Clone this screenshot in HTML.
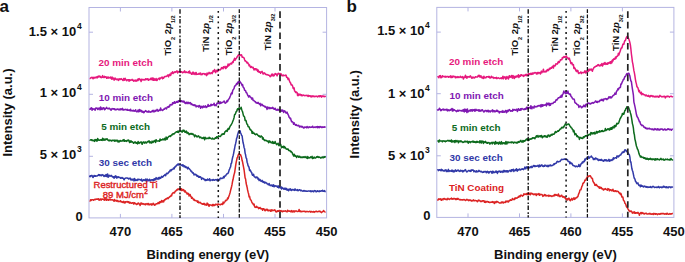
<!DOCTYPE html>
<html><head><meta charset="utf-8"><style>
html,body{margin:0;padding:0;background:#fff;}
body{width:685px;height:262px;overflow:hidden;}
svg{display:block;}
text{font-family:"Liberation Sans",sans-serif;font-weight:bold;}
.t13{font-size:13px;fill:#111;}
.t10{font-size:9.5px;fill:#111;}
.c{font-size:9.9px;}
</style></head><body>
<svg width="685" height="262" viewBox="0 0 685 262">
<text x="-0.5" y="12" style="font-size:17px;fill:#111">a</text>
<text x="346.5" y="11.9" style="font-size:17px;fill:#111">b</text>
<rect x="89.0" y="7.5" width="237.6" height="210.4" fill="none" stroke="#B4B4E2" stroke-width="1"/>
<line x1="120.4" y1="217.9" x2="120.4" y2="213.9" stroke="#B4B4E2" stroke-width="1"/>
<line x1="120.4" y1="7.5" x2="120.4" y2="11.5" stroke="#B4B4E2" stroke-width="1"/>
<line x1="171.9" y1="217.9" x2="171.9" y2="213.9" stroke="#B4B4E2" stroke-width="1"/>
<line x1="171.9" y1="7.5" x2="171.9" y2="11.5" stroke="#B4B4E2" stroke-width="1"/>
<line x1="223.5" y1="217.9" x2="223.5" y2="213.9" stroke="#B4B4E2" stroke-width="1"/>
<line x1="223.5" y1="7.5" x2="223.5" y2="11.5" stroke="#B4B4E2" stroke-width="1"/>
<line x1="275.0" y1="217.9" x2="275.0" y2="213.9" stroke="#B4B4E2" stroke-width="1"/>
<line x1="275.0" y1="7.5" x2="275.0" y2="11.5" stroke="#B4B4E2" stroke-width="1"/>
<line x1="89.0" y1="32.2" x2="93.0" y2="32.2" stroke="#B4B4E2" stroke-width="1"/>
<line x1="326.6" y1="32.2" x2="322.6" y2="32.2" stroke="#B4B4E2" stroke-width="1"/>
<line x1="89.0" y1="94.3" x2="93.0" y2="94.3" stroke="#B4B4E2" stroke-width="1"/>
<line x1="326.6" y1="94.3" x2="322.6" y2="94.3" stroke="#B4B4E2" stroke-width="1"/>
<line x1="89.0" y1="156.3" x2="93.0" y2="156.3" stroke="#B4B4E2" stroke-width="1"/>
<line x1="326.6" y1="156.3" x2="322.6" y2="156.3" stroke="#B4B4E2" stroke-width="1"/>
<path d="M89.6,78.4 90.1,78.5 90.6,78.0 91.1,77.5 91.6,77.7 92.1,77.2 92.6,78.0 93.1,78.8 93.6,77.4 94.1,77.2 94.6,78.0 95.1,77.9 95.6,77.6 96.1,76.8 96.6,77.5 97.1,78.0 97.6,76.5 98.1,77.2 98.6,76.1 99.1,76.5 99.6,76.1 100.1,77.3 100.6,76.5 101.1,77.7 101.6,77.6 102.1,77.4 102.6,75.6 103.1,77.1 103.6,77.5 104.1,77.6 104.6,76.4 105.1,77.1 105.6,76.8 106.1,76.9 106.6,78.3 107.1,76.9 107.6,77.5 108.1,78.2 108.6,77.1 109.1,77.6 109.6,77.8 110.1,77.9 110.6,77.0 111.1,78.1 111.6,79.1 112.1,77.1 112.6,79.0 113.1,78.6 113.6,78.1 114.1,80.2 114.6,79.4 115.1,78.0 115.6,79.0 116.1,79.5 116.6,79.0 117.1,79.7 117.6,79.1 118.1,79.7 118.6,80.4 119.1,78.8 119.6,79.5 120.1,79.1 120.6,79.5 121.1,78.6 121.6,79.1 122.1,79.4 122.6,80.2 123.1,80.5 123.6,78.6 124.1,79.1 124.6,80.2 125.1,78.2 125.6,79.4 126.1,79.7 126.6,80.8 127.1,80.4 127.6,79.7 128.1,79.7 128.6,79.8 129.1,81.2 129.6,79.7 130.1,79.9 130.6,80.4 131.1,80.1 131.6,80.1 132.1,79.4 132.6,80.3 133.1,80.0 133.6,81.2 134.1,80.9 134.6,80.4 135.1,80.9 135.6,80.1 136.1,81.2 136.6,80.4 137.1,80.8 137.6,79.3 138.1,80.5 138.6,78.9 139.1,78.6 139.6,79.8 140.1,79.3 140.6,80.1 141.1,81.5 141.6,79.2 142.1,79.3 142.6,79.8 143.1,80.0 143.6,79.4 144.1,79.4 144.6,80.0 145.1,79.9 145.6,78.7 146.1,79.4 146.6,79.5 147.1,78.7 147.6,79.7 148.1,78.9 148.6,80.3 149.1,79.7 149.6,79.6 150.1,79.1 150.6,79.5 151.1,78.1 151.6,78.7 152.1,79.9 152.6,78.0 153.1,80.2 153.6,78.3 154.1,80.2 154.6,79.0 155.1,80.2 155.6,79.7 156.1,78.4 156.6,80.4 157.1,80.4 157.6,79.1 158.1,78.9 158.6,78.8 159.1,78.1 159.6,79.5 160.1,78.1 160.6,78.4 161.1,77.7 161.6,77.6 162.1,77.0 162.6,78.8 163.1,77.5 163.6,78.2 164.1,77.3 164.6,76.6 165.1,76.7 165.6,76.4 166.1,76.6 166.6,76.2 167.1,76.0 167.6,75.0 168.1,75.2 168.6,76.9 169.1,74.9 169.6,74.4 170.1,75.1 170.6,75.5 171.1,73.0 171.6,73.6 172.1,72.9 172.6,71.8 173.1,73.5 173.6,72.7 174.1,72.6 174.6,71.8 175.1,72.5 175.6,71.7 176.1,71.9 176.6,71.1 177.1,71.0 177.6,72.9 178.1,71.5 178.6,72.1 179.1,71.9 179.6,71.6 180.1,71.5 180.6,72.4 181.1,71.7 181.6,71.8 182.1,71.9 182.6,72.8 183.1,72.4 183.6,72.2 184.1,71.5 184.6,70.9 185.1,72.6 185.6,72.6 186.1,71.8 186.6,72.3 187.1,72.5 187.6,72.5 188.1,72.6 188.6,71.6 189.1,73.1 189.6,71.1 190.1,72.9 190.6,72.8 191.1,73.3 191.6,74.3 192.1,74.2 192.6,72.4 193.1,72.1 193.6,74.1 194.1,72.9 194.6,73.7 195.1,74.5 195.6,72.8 196.1,72.5 196.6,74.4 197.1,74.3 197.6,74.1 198.1,74.3 198.6,73.7 199.1,73.2 199.6,74.2 200.1,73.6 200.6,73.1 201.1,74.7 201.6,74.3 202.1,74.6 202.6,73.6 203.1,73.8 203.6,73.6 204.1,73.6 204.6,74.4 205.1,73.7 205.6,74.5 206.1,74.4 206.6,75.6 207.1,73.0 207.6,74.6 208.1,73.7 208.6,73.6 209.1,72.4 209.6,73.0 210.1,73.8 210.6,73.0 211.1,73.0 211.6,72.6 212.1,73.6 212.6,72.5 213.1,70.8 213.6,71.7 214.1,70.6 214.6,69.5 215.1,71.4 215.6,72.6 216.1,71.4 216.6,70.3 217.1,70.3 217.6,71.6 218.1,70.7 218.6,70.3 219.1,69.9 219.6,69.7 220.1,69.9 220.6,69.4 221.1,68.8 221.6,67.6 222.1,68.5 222.6,67.5 223.1,68.7 223.6,66.8 224.1,67.6 224.6,67.5 225.1,66.4 225.6,68.6 226.1,68.2 226.6,66.5 227.1,67.1 227.6,66.5 228.1,64.0 228.6,65.8 229.1,65.2 229.6,64.9 230.1,63.6 230.6,63.7 231.1,63.3 231.6,63.9 232.1,62.7 232.6,61.9 233.1,62.5 233.6,60.4 234.1,59.9 234.6,58.3 235.1,60.3 235.6,59.2 236.1,58.6 236.6,57.9 237.1,56.9 237.6,56.4 238.1,55.4 238.6,54.9 239.1,54.8 239.6,55.9 240.1,55.3 240.6,55.0 241.1,54.8 241.6,55.0 242.1,57.2 242.6,57.0 243.1,57.3 243.6,57.7 244.1,58.0 244.6,59.7 245.1,61.1 245.6,60.8 246.1,61.6 246.6,62.2 247.1,63.0 247.6,62.3 248.1,63.8 248.6,63.9 249.1,65.7 249.6,65.0 250.1,66.4 250.6,67.5 251.1,66.5 251.6,66.7 252.1,67.6 252.6,67.8 253.1,67.3 253.6,68.7 254.1,70.1 254.6,68.7 255.1,69.0 255.6,68.7 256.1,70.0 256.6,69.0 257.1,69.4 257.6,71.4 258.1,70.0 258.6,71.7 259.1,72.3 259.6,71.6 260.1,72.0 260.6,73.3 261.1,71.9 261.6,71.8 262.1,71.4 262.6,72.7 263.1,74.1 263.6,73.9 264.1,72.8 264.6,73.1 265.1,73.6 265.6,74.4 266.1,74.2 266.6,74.7 267.1,74.9 267.6,74.6 268.1,74.9 268.6,75.3 269.1,75.2 269.6,75.7 270.1,76.8 270.6,76.0 271.1,75.6 271.6,74.3 272.1,75.9 272.6,74.1 273.1,74.4 273.6,75.9 274.1,75.7 274.6,74.8 275.1,73.5 275.6,74.3 276.1,73.9 276.6,74.8 277.1,75.9 277.6,74.3 278.1,73.5 278.6,73.3 279.1,74.1 279.6,74.1 280.1,73.5 280.6,74.6 281.1,73.8 281.6,75.6 282.1,75.7 282.6,75.8 283.1,74.8 283.6,75.7 284.1,75.4 284.6,75.4 285.1,75.6 285.6,75.1 286.1,75.3 286.6,77.3 287.1,77.2 287.6,78.2 288.1,79.6 288.6,78.3 289.1,79.8 289.6,81.4 290.1,82.5 290.6,82.8 291.1,84.8 291.6,85.1 292.1,84.9 292.6,86.0 293.1,88.2 293.6,88.8 294.1,87.9 294.6,91.1 295.1,91.2 295.6,92.5 296.1,91.9 296.6,92.6 297.1,92.5 297.6,95.6 298.1,93.9 298.6,95.5 299.1,94.1 299.6,94.9 300.1,94.2 300.6,94.9 301.1,95.6 301.6,94.7 302.1,95.8 302.6,95.6 303.1,95.0 303.6,95.3 304.1,95.4 304.6,95.7 305.1,95.5 305.6,95.4 306.1,95.7 306.6,95.4 307.1,95.3 307.6,95.9 308.1,96.4 308.6,95.4 309.1,96.1 309.6,95.8 310.1,95.7 310.6,96.6 311.1,96.0 311.6,96.9 312.1,95.9 312.6,96.5 313.1,96.2 313.6,96.0 314.1,96.7 314.6,96.3 315.1,96.7 315.6,96.4 316.1,96.0 316.6,96.4 317.1,96.5 317.6,96.9 318.1,96.1 318.6,96.5 319.1,95.7 319.6,96.8 320.1,96.1 320.6,95.7 321.1,96.5 321.6,97.1 322.1,95.9 322.6,96.1 323.1,96.2 323.6,96.1 324.1,96.8 324.6,96.2 325.1,96.3 325.6,96.9" fill="none" stroke="#E6197D" stroke-width="1.5" stroke-linejoin="round"/>
<path d="M89.6,108.5 90.1,109.3 90.6,108.3 91.1,108.2 91.6,107.7 92.1,110.3 92.6,108.8 93.1,109.2 93.6,109.0 94.1,109.1 94.6,109.0 95.1,110.3 95.6,108.3 96.1,107.9 96.6,108.3 97.1,108.1 97.6,109.5 98.1,109.6 98.6,108.3 99.1,108.0 99.6,108.7 100.1,109.9 100.6,107.0 101.1,109.3 101.6,108.1 102.1,109.6 102.6,108.1 103.1,108.6 103.6,107.7 104.1,108.1 104.6,109.7 105.1,109.3 105.6,108.4 106.1,108.1 106.6,107.4 107.1,108.4 107.6,108.7 108.1,108.7 108.6,108.7 109.1,108.0 109.6,108.8 110.1,108.8 110.6,109.8 111.1,110.3 111.6,109.0 112.1,108.6 112.6,109.1 113.1,108.8 113.6,108.8 114.1,109.3 114.6,108.7 115.1,109.9 115.6,109.5 116.1,109.7 116.6,109.5 117.1,109.1 117.6,109.0 118.1,109.5 118.6,109.3 119.1,109.9 119.6,109.7 120.1,108.8 120.6,109.8 121.1,108.8 121.6,109.4 122.1,109.6 122.6,108.4 123.1,109.9 123.6,110.0 124.1,109.8 124.6,109.6 125.1,109.7 125.6,109.3 126.1,109.8 126.6,109.6 127.1,110.1 127.6,109.3 128.1,110.3 128.6,110.3 129.1,110.1 129.6,110.0 130.1,110.7 130.6,109.2 131.1,110.8 131.6,110.7 132.1,110.8 132.6,110.9 133.1,110.2 133.6,110.5 134.1,111.2 134.6,111.1 135.1,111.0 135.6,109.8 136.1,111.3 136.6,111.8 137.1,111.7 137.6,111.2 138.1,110.0 138.6,111.8 139.1,111.1 139.6,109.4 140.1,111.5 140.6,110.3 141.1,110.4 141.6,110.9 142.1,112.3 142.6,111.2 143.1,111.6 143.6,112.7 144.1,112.6 144.6,111.4 145.1,111.3 145.6,110.6 146.1,111.0 146.6,111.8 147.1,111.8 147.6,111.6 148.1,112.2 148.6,110.9 149.1,111.4 149.6,112.0 150.1,111.9 150.6,112.2 151.1,111.7 151.6,111.2 152.1,111.7 152.6,110.7 153.1,110.3 153.6,111.8 154.1,111.4 154.6,111.6 155.1,110.2 155.6,111.1 156.1,110.8 156.6,110.5 157.1,109.4 157.6,110.6 158.1,111.3 158.6,110.8 159.1,109.9 159.6,110.1 160.1,110.5 160.6,107.9 161.1,109.7 161.6,110.0 162.1,110.0 162.6,110.5 163.1,110.0 163.6,109.2 164.1,109.1 164.6,109.2 165.1,108.1 165.6,108.1 166.1,108.5 166.6,108.9 167.1,107.1 167.6,106.9 168.1,106.7 168.6,107.2 169.1,105.9 169.6,106.6 170.1,104.6 170.6,104.9 171.1,104.6 171.6,104.9 172.1,104.8 172.6,102.7 173.1,102.9 173.6,103.5 174.1,102.5 174.6,101.7 175.1,103.2 175.6,102.6 176.1,102.4 176.6,101.5 177.1,102.4 177.6,101.4 178.1,102.2 178.6,100.8 179.1,100.8 179.6,101.5 180.1,100.8 180.6,101.8 181.1,101.5 181.6,100.7 182.1,101.4 182.6,101.2 183.1,102.1 183.6,101.1 184.1,101.3 184.6,102.5 185.1,103.4 185.6,103.4 186.1,102.2 186.6,102.5 187.1,103.6 187.6,102.6 188.1,102.2 188.6,103.2 189.1,103.6 189.6,102.9 190.1,102.5 190.6,102.9 191.1,104.5 191.6,103.7 192.1,104.4 192.6,104.8 193.1,105.3 193.6,104.8 194.1,105.6 194.6,104.9 195.1,105.5 195.6,105.2 196.1,106.9 196.6,106.3 197.1,105.9 197.6,106.2 198.1,106.3 198.6,107.0 199.1,105.4 199.6,105.8 200.1,106.2 200.6,108.2 201.1,107.1 201.6,106.4 202.1,106.9 202.6,107.8 203.1,106.2 203.6,106.1 204.1,107.2 204.6,106.6 205.1,106.7 205.6,105.9 206.1,107.5 206.6,107.3 207.1,106.4 207.6,106.5 208.1,104.5 208.6,106.3 209.1,105.6 209.6,105.9 210.1,106.0 210.6,105.2 211.1,104.2 211.6,105.6 212.1,104.7 212.6,104.9 213.1,104.6 213.6,104.7 214.1,103.2 214.6,105.6 215.1,104.8 215.6,105.3 216.1,105.8 216.6,104.3 217.1,102.9 217.6,103.4 218.1,103.0 218.6,103.4 219.1,103.6 219.6,102.0 220.1,103.5 220.6,102.0 221.1,103.1 221.6,102.6 222.1,102.4 222.6,102.4 223.1,102.0 223.6,101.8 224.1,101.0 224.6,102.0 225.1,103.2 225.6,103.1 226.1,102.5 226.6,101.8 227.1,100.5 227.6,101.6 228.1,100.0 228.6,99.5 229.1,98.6 229.6,98.0 230.1,96.5 230.6,95.5 231.1,93.7 231.6,93.1 232.1,93.8 232.6,91.0 233.1,89.7 233.6,89.2 234.1,88.3 234.6,86.1 235.1,85.8 235.6,85.7 236.1,84.5 236.6,83.8 237.1,84.3 237.6,82.3 238.1,82.4 238.6,81.8 239.1,83.3 239.6,81.0 240.1,82.0 240.6,82.3 241.1,83.5 241.6,84.1 242.1,85.6 242.6,84.6 243.1,87.2 243.6,87.5 244.1,88.3 244.6,90.3 245.1,90.4 245.6,90.6 246.1,92.6 246.6,92.5 247.1,93.8 247.6,95.1 248.1,95.6 248.6,97.0 249.1,96.3 249.6,95.8 250.1,96.8 250.6,97.2 251.1,97.4 251.6,99.0 252.1,98.7 252.6,98.1 253.1,100.4 253.6,100.2 254.1,100.9 254.6,101.1 255.1,101.9 255.6,101.8 256.1,103.0 256.6,102.7 257.1,103.0 257.6,103.3 258.1,102.3 258.6,103.5 259.1,103.7 259.6,104.3 260.1,103.4 260.6,105.8 261.1,105.0 261.6,104.3 262.1,104.2 262.6,105.4 263.1,105.8 263.6,105.6 264.1,106.4 264.6,106.2 265.1,107.2 265.6,106.5 266.1,107.2 266.6,108.1 267.1,109.4 267.6,107.0 268.1,107.5 268.6,107.4 269.1,108.7 269.6,107.4 270.1,108.0 270.6,108.4 271.1,107.9 271.6,108.0 272.1,108.4 272.6,107.4 273.1,107.9 273.6,108.8 274.1,109.3 274.6,109.2 275.1,108.2 275.6,109.2 276.1,110.2 276.6,110.1 277.1,109.8 277.6,109.3 278.1,110.4 278.6,109.7 279.1,109.3 279.6,109.6 280.1,111.3 280.6,110.4 281.1,111.1 281.6,110.0 282.1,111.1 282.6,110.1 283.1,110.5 283.6,112.4 284.1,111.5 284.6,110.8 285.1,111.5 285.6,112.2 286.1,113.2 286.6,112.5 287.1,112.1 287.6,113.7 288.1,114.6 288.6,115.5 289.1,117.3 289.6,117.5 290.1,118.7 290.6,118.2 291.1,120.3 291.6,121.8 292.1,121.6 292.6,121.9 293.1,122.5 293.6,124.2 294.1,122.8 294.6,123.8 295.1,124.6 295.6,125.1 296.1,124.6 296.6,125.4 297.1,125.3 297.6,125.8 298.1,125.8 298.6,125.3 299.1,126.2 299.6,127.0 300.1,126.1 300.6,126.5 301.1,126.9 301.6,126.3 302.1,126.9 302.6,126.5 303.1,127.4 303.6,128.0 304.1,127.9 304.6,127.0 305.1,127.4 305.6,127.2 306.1,127.1 306.6,127.8 307.1,126.5 307.6,127.5 308.1,127.1 308.6,127.7 309.1,127.2 309.6,126.8 310.1,127.2 310.6,127.4 311.1,127.1 311.6,127.3 312.1,126.9 312.6,126.2 313.1,127.5 313.6,127.4 314.1,127.2 314.6,127.1 315.1,127.5 315.6,126.9 316.1,126.8 316.6,127.0 317.1,127.6 317.6,126.5 318.1,127.6 318.6,126.8 319.1,126.6 319.6,127.6 320.1,127.0 320.6,126.5 321.1,126.9 321.6,127.4 322.1,127.5 322.6,126.9 323.1,127.2 323.6,127.3 324.1,126.8 324.6,127.2 325.1,127.0 325.6,126.8" fill="none" stroke="#7F18B2" stroke-width="1.5" stroke-linejoin="round"/>
<path d="M89.6,139.8 90.1,140.1 90.6,140.1 91.1,139.7 91.6,139.8 92.1,140.7 92.6,140.1 93.1,140.6 93.6,140.8 94.1,140.3 94.6,141.4 95.1,139.4 95.6,140.4 96.1,139.7 96.6,141.1 97.1,141.0 97.6,138.6 98.1,139.2 98.6,140.3 99.1,140.3 99.6,140.3 100.1,139.7 100.6,140.1 101.1,140.2 101.6,139.7 102.1,140.4 102.6,138.3 103.1,140.1 103.6,139.0 104.1,140.3 104.6,139.6 105.1,139.1 105.6,140.0 106.1,139.1 106.6,139.2 107.1,138.8 107.6,139.9 108.1,140.2 108.6,140.6 109.1,140.0 109.6,140.8 110.1,140.2 110.6,140.2 111.1,140.7 111.6,141.0 112.1,140.2 112.6,140.3 113.1,140.4 113.6,140.6 114.1,140.0 114.6,141.2 115.1,140.3 115.6,140.9 116.1,140.1 116.6,140.9 117.1,140.9 117.6,140.4 118.1,142.0 118.6,141.0 119.1,141.9 119.6,141.4 120.1,140.4 120.6,140.6 121.1,141.2 121.6,140.9 122.1,141.0 122.6,140.8 123.1,139.8 123.6,140.9 124.1,139.6 124.6,141.3 125.1,140.7 125.6,140.7 126.1,141.1 126.6,141.4 127.1,140.4 127.6,140.2 128.1,140.7 128.6,140.1 129.1,140.9 129.6,142.6 130.1,140.9 130.6,142.1 131.1,140.9 131.6,142.0 132.1,141.7 132.6,142.0 133.1,142.5 133.6,143.3 134.1,142.4 134.6,142.5 135.1,141.8 135.6,142.9 136.1,142.5 136.6,143.2 137.1,142.7 137.6,143.9 138.1,141.5 138.6,142.6 139.1,143.4 139.6,142.6 140.1,142.3 140.6,142.6 141.1,141.8 141.6,142.8 142.1,144.3 142.6,143.4 143.1,141.9 143.6,142.0 144.1,142.3 144.6,143.2 145.1,142.0 145.6,142.0 146.1,143.0 146.6,143.0 147.1,142.1 147.6,141.6 148.1,141.3 148.6,141.8 149.1,140.8 149.6,142.7 150.1,141.7 150.6,142.4 151.1,143.2 151.6,142.7 152.1,141.1 152.6,142.4 153.1,142.5 153.6,141.2 154.1,141.0 154.6,141.5 155.1,140.4 155.6,142.4 156.1,139.8 156.6,140.5 157.1,141.0 157.6,140.9 158.1,141.0 158.6,141.0 159.1,140.6 159.6,141.3 160.1,139.0 160.6,140.3 161.1,139.7 161.6,140.1 162.1,140.0 162.6,139.1 163.1,139.1 163.6,139.8 164.1,139.3 164.6,138.4 165.1,139.9 165.6,139.8 166.1,137.1 166.6,138.0 167.1,139.2 167.6,137.8 168.1,137.2 168.6,136.7 169.1,136.3 169.6,136.2 170.1,135.8 170.6,136.4 171.1,135.4 171.6,135.1 172.1,134.3 172.6,134.7 173.1,133.7 173.6,133.7 174.1,134.0 174.6,133.1 175.1,132.8 175.6,132.4 176.1,132.0 176.6,131.8 177.1,131.6 177.6,132.2 178.1,130.9 178.6,132.4 179.1,131.5 179.6,130.9 180.1,131.1 180.6,131.0 181.1,131.5 181.6,131.0 182.1,132.2 182.6,131.0 183.1,130.1 183.6,131.1 184.1,130.3 184.6,131.7 185.1,132.4 185.6,132.2 186.1,131.0 186.6,131.5 187.1,133.4 187.6,132.6 188.1,132.6 188.6,133.5 189.1,134.6 189.6,134.1 190.1,133.5 190.6,133.8 191.1,134.2 191.6,133.6 192.1,133.5 192.6,134.5 193.1,134.0 193.6,134.8 194.1,135.1 194.6,136.8 195.1,134.9 195.6,135.6 196.1,135.8 196.6,136.4 197.1,137.0 197.6,136.3 198.1,136.2 198.6,135.9 199.1,136.6 199.6,137.7 200.1,137.5 200.6,137.0 201.1,137.6 201.6,138.0 202.1,138.5 202.6,137.9 203.1,138.3 203.6,137.3 204.1,137.8 204.6,139.7 205.1,137.2 205.6,138.4 206.1,138.7 206.6,138.3 207.1,138.1 207.6,138.5 208.1,138.6 208.6,138.5 209.1,137.3 209.6,138.4 210.1,138.0 210.6,138.2 211.1,138.6 211.6,138.9 212.1,139.0 212.6,138.1 213.1,138.9 213.6,139.0 214.1,138.9 214.6,139.0 215.1,137.9 215.6,137.7 216.1,138.3 216.6,136.7 217.1,137.6 217.6,137.0 218.1,136.9 218.6,135.8 219.1,136.1 219.6,136.4 220.1,136.6 220.6,136.3 221.1,135.2 221.6,134.8 222.1,134.0 222.6,134.5 223.1,133.7 223.6,133.9 224.1,134.3 224.6,132.8 225.1,131.4 225.6,131.4 226.1,130.6 226.6,130.3 227.1,131.4 227.6,130.2 228.1,128.5 228.6,129.3 229.1,129.1 229.6,127.3 230.1,126.3 230.6,125.6 231.1,125.0 231.6,124.0 232.1,123.1 232.6,121.8 233.1,120.5 233.6,119.2 234.1,117.4 234.6,114.6 235.1,114.3 235.6,113.4 236.1,111.8 236.6,111.6 237.1,109.9 237.6,108.8 238.1,109.6 238.6,108.6 239.1,108.0 239.6,108.6 240.1,108.9 240.6,108.7 241.1,107.3 241.6,109.3 242.1,110.7 242.6,111.9 243.1,114.1 243.6,116.1 244.1,116.3 244.6,117.1 245.1,120.4 245.6,120.1 246.1,120.8 246.6,123.0 247.1,124.3 247.6,124.7 248.1,126.6 248.6,126.6 249.1,127.1 249.6,128.5 250.1,129.6 250.6,129.3 251.1,130.5 251.6,130.9 252.1,133.3 252.6,131.6 253.1,133.4 253.6,132.9 254.1,133.2 254.6,134.0 255.1,134.3 255.6,134.7 256.1,134.3 256.6,133.9 257.1,134.1 257.6,135.0 258.1,135.3 258.6,136.1 259.1,135.7 259.6,136.5 260.1,137.1 260.6,136.6 261.1,135.9 261.6,136.5 262.1,136.7 262.6,139.0 263.1,137.8 263.6,139.5 264.1,139.5 264.6,140.6 265.1,140.5 265.6,140.2 266.1,140.4 266.6,140.9 267.1,141.2 267.6,141.0 268.1,141.5 268.6,142.7 269.1,140.7 269.6,142.1 270.1,141.4 270.6,142.3 271.1,142.8 271.6,142.3 272.1,142.9 272.6,141.5 273.1,143.4 273.6,142.4 274.1,143.3 274.6,143.2 275.1,141.5 275.6,142.8 276.1,143.6 276.6,144.6 277.1,143.9 277.6,144.1 278.1,143.2 278.6,145.2 279.1,145.7 279.6,144.8 280.1,144.9 280.6,144.3 281.1,146.2 281.6,147.7 282.1,146.6 282.6,147.2 283.1,147.0 283.6,146.2 284.1,148.0 284.6,146.6 285.1,147.5 285.6,148.1 286.1,148.9 286.6,149.0 287.1,149.3 287.6,149.0 288.1,149.1 288.6,150.4 289.1,150.4 289.6,150.4 290.1,150.9 290.6,151.8 291.1,151.4 291.6,152.2 292.1,152.5 292.6,154.1 293.1,154.7 293.6,156.1 294.1,154.2 294.6,155.0 295.1,156.3 295.6,155.8 296.1,155.9 296.6,157.5 297.1,156.3 297.6,156.0 298.1,156.0 298.6,157.2 299.1,157.3 299.6,156.2 300.1,156.8 300.6,157.4 301.1,157.5 301.6,157.0 302.1,157.5 302.6,157.6 303.1,156.7 303.6,157.2 304.1,157.5 304.6,157.2 305.1,156.6 305.6,157.3 306.1,157.7 306.6,158.0 307.1,156.5 307.6,158.4 308.1,157.0 308.6,157.8 309.1,157.9 309.6,157.8 310.1,157.5 310.6,156.9 311.1,157.6 311.6,157.1 312.1,156.4 312.6,158.5 313.1,157.7 313.6,158.1 314.1,157.0 314.6,158.0 315.1,158.0 315.6,158.0 316.1,157.4 316.6,156.9 317.1,157.3 317.6,156.5 318.1,156.7 318.6,157.4 319.1,157.0 319.6,157.3 320.1,157.3 320.6,158.1 321.1,157.9 321.6,157.3 322.1,157.8 322.6,157.0 323.1,157.2 323.6,157.7 324.1,156.8 324.6,157.2 325.1,156.8 325.6,157.4" fill="none" stroke="#0C6A1C" stroke-width="1.5" stroke-linejoin="round"/>
<path d="M89.6,177.3 90.1,175.8 90.6,176.4 91.1,175.7 91.6,175.5 92.1,175.4 92.6,176.9 93.1,177.5 93.6,176.3 94.1,175.5 94.6,176.3 95.1,175.7 95.6,176.3 96.1,176.0 96.6,176.0 97.1,176.1 97.6,175.4 98.1,175.4 98.6,174.6 99.1,175.4 99.6,174.7 100.1,175.5 100.6,175.0 101.1,175.6 101.6,175.8 102.1,174.6 102.6,175.0 103.1,174.9 103.6,175.9 104.1,176.4 104.6,175.9 105.1,175.2 105.6,176.3 106.1,174.5 106.6,176.4 107.1,175.2 107.6,173.9 108.1,177.3 108.6,176.7 109.1,175.2 109.6,176.0 110.1,175.9 110.6,176.2 111.1,175.3 111.6,175.9 112.1,176.7 112.6,176.6 113.1,177.3 113.6,176.7 114.1,178.2 114.6,176.4 115.1,177.1 115.6,175.9 116.1,176.4 116.6,178.0 117.1,176.7 117.6,177.7 118.1,177.4 118.6,176.9 119.1,177.4 119.6,177.4 120.1,177.5 120.6,178.3 121.1,178.3 121.6,177.7 122.1,177.5 122.6,178.3 123.1,178.1 123.6,178.8 124.1,179.8 124.6,178.8 125.1,178.3 125.6,178.2 126.1,177.9 126.6,177.9 127.1,177.9 127.6,178.3 128.1,178.3 128.6,179.0 129.1,178.4 129.6,178.5 130.1,178.0 130.6,179.8 131.1,179.1 131.6,180.0 132.1,179.4 132.6,179.9 133.1,179.0 133.6,179.6 134.1,180.9 134.6,178.6 135.1,180.1 135.6,180.5 136.1,179.8 136.6,180.1 137.1,180.5 137.6,179.3 138.1,180.0 138.6,179.3 139.1,179.4 139.6,179.5 140.1,179.8 140.6,180.0 141.1,180.2 141.6,179.1 142.1,181.2 142.6,180.7 143.1,180.5 143.6,179.8 144.1,180.0 144.6,180.4 145.1,180.3 145.6,179.1 146.1,180.6 146.6,181.9 147.1,179.0 147.6,180.7 148.1,180.3 148.6,180.0 149.1,180.9 149.6,179.3 150.1,180.2 150.6,180.9 151.1,179.9 151.6,179.8 152.1,180.1 152.6,179.7 153.1,180.8 153.6,179.3 154.1,180.2 154.6,178.8 155.1,179.9 155.6,179.3 156.1,177.6 156.6,179.0 157.1,178.2 157.6,178.4 158.1,179.4 158.6,177.6 159.1,177.4 159.6,178.7 160.1,177.6 160.6,178.3 161.1,177.3 161.6,176.3 162.1,176.6 162.6,177.1 163.1,176.7 163.6,175.8 164.1,175.6 164.6,175.2 165.1,174.6 165.6,175.8 166.1,174.3 166.6,173.2 167.1,173.3 167.6,173.7 168.1,173.2 168.6,172.4 169.1,171.6 169.6,171.7 170.1,170.2 170.6,170.0 171.1,170.8 171.6,169.5 172.1,169.6 172.6,169.6 173.1,168.8 173.6,168.0 174.1,168.9 174.6,167.6 175.1,166.5 175.6,166.7 176.1,166.1 176.6,165.0 177.1,165.2 177.6,164.9 178.1,163.8 178.6,164.9 179.1,164.9 179.6,164.8 180.1,164.1 180.6,164.9 181.1,165.2 181.6,165.4 182.1,164.7 182.6,166.0 183.1,165.0 183.6,165.8 184.1,166.9 184.6,165.9 185.1,166.3 185.6,167.5 186.1,166.9 186.6,167.3 187.1,168.0 187.6,168.9 188.1,167.2 188.6,168.4 189.1,168.7 189.6,169.1 190.1,169.8 190.6,170.3 191.1,171.5 191.6,171.2 192.1,172.3 192.6,173.0 193.1,172.7 193.6,173.6 194.1,174.9 194.6,174.4 195.1,174.1 195.6,174.8 196.1,174.6 196.6,175.6 197.1,176.3 197.6,175.5 198.1,176.2 198.6,177.3 199.1,176.5 199.6,177.2 200.1,176.7 200.6,177.1 201.1,177.6 201.6,179.4 202.1,178.1 202.6,178.2 203.1,178.4 203.6,178.8 204.1,179.5 204.6,179.3 205.1,180.6 205.6,179.6 206.1,180.4 206.6,179.8 207.1,180.1 207.6,179.0 208.1,179.9 208.6,180.0 209.1,179.9 209.6,178.8 210.1,180.7 210.6,180.0 211.1,179.9 211.6,180.0 212.1,180.1 212.6,180.4 213.1,179.4 213.6,179.6 214.1,180.3 214.6,180.2 215.1,179.8 215.6,179.7 216.1,179.5 216.6,179.9 217.1,180.6 217.6,179.2 218.1,180.7 218.6,180.2 219.1,179.3 219.6,179.9 220.1,178.4 220.6,178.1 221.1,178.2 221.6,178.5 222.1,178.4 222.6,178.0 223.1,178.1 223.6,176.5 224.1,177.7 224.6,176.1 225.1,176.1 225.6,175.8 226.1,174.9 226.6,174.2 227.1,173.8 227.6,173.6 228.1,173.1 228.6,172.1 229.1,170.1 229.6,169.1 230.1,167.7 230.6,166.9 231.1,163.4 231.6,163.2 232.1,159.9 232.6,157.5 233.1,155.7 233.6,153.6 234.1,150.6 234.6,148.5 235.1,145.5 235.6,143.7 236.1,141.3 236.6,138.3 237.1,137.3 237.6,134.7 238.1,133.1 238.6,131.5 239.1,131.2 239.6,131.7 240.1,130.9 240.6,133.0 241.1,133.9 241.6,135.5 242.1,135.9 242.6,139.6 243.1,142.8 243.6,144.6 244.1,147.7 244.6,148.8 245.1,153.1 245.6,154.8 246.1,158.0 246.6,158.5 247.1,162.2 247.6,163.6 248.1,165.9 248.6,166.3 249.1,167.7 249.6,170.6 250.1,169.9 250.6,170.9 251.1,172.0 251.6,172.3 252.1,174.3 252.6,175.3 253.1,174.4 253.6,174.3 254.1,176.5 254.6,176.9 255.1,177.2 255.6,177.8 256.1,176.9 256.6,177.7 257.1,177.2 257.6,177.5 258.1,179.3 258.6,178.6 259.1,180.6 259.6,179.6 260.1,179.5 260.6,180.6 261.1,181.5 261.6,181.1 262.1,180.3 262.6,181.6 263.1,182.4 263.6,181.6 264.1,181.7 264.6,183.0 265.1,182.8 265.6,182.3 266.1,182.9 266.6,182.9 267.1,183.8 267.6,183.9 268.1,184.7 268.6,184.7 269.1,183.5 269.6,184.9 270.1,185.4 270.6,185.3 271.1,185.8 271.6,185.1 272.1,185.0 272.6,186.3 273.1,185.3 273.6,184.8 274.1,186.8 274.6,185.9 275.1,186.3 275.6,185.8 276.1,185.9 276.6,186.2 277.1,186.7 277.6,187.3 278.1,185.8 278.6,187.7 279.1,186.7 279.6,186.8 280.1,188.0 280.6,187.6 281.1,186.9 281.6,189.0 282.1,187.5 282.6,188.3 283.1,188.3 283.6,189.2 284.1,188.2 284.6,189.2 285.1,188.2 285.6,189.4 286.1,188.4 286.6,188.8 287.1,190.2 287.6,189.4 288.1,189.3 288.6,190.7 289.1,189.6 289.6,189.0 290.1,190.0 290.6,188.9 291.1,190.3 291.6,190.5 292.1,189.5 292.6,189.5 293.1,190.0 293.6,190.0 294.1,189.4 294.6,190.4 295.1,188.9 295.6,189.9 296.1,190.0 296.6,190.1 297.1,190.5 297.6,189.6 298.1,190.8 298.6,190.3 299.1,190.1 299.6,189.7 300.1,190.1 300.6,190.7 301.1,190.2 301.6,190.6 302.1,191.0 302.6,191.1 303.1,191.3 303.6,190.6 304.1,190.4 304.6,191.2 305.1,190.9 305.6,191.2 306.1,190.9 306.6,191.3 307.1,191.2 307.6,191.2 308.1,191.1 308.6,191.1 309.1,191.1 309.6,191.1 310.1,191.4 310.6,190.9 311.1,191.7 311.6,191.0 312.1,191.4 312.6,191.1 313.1,191.0 313.6,191.8 314.1,191.0 314.6,190.6 315.1,190.8 315.6,191.0 316.1,191.9 316.6,191.2 317.1,191.4 317.6,190.7 318.1,191.2 318.6,191.3 319.1,191.7 319.6,190.8 320.1,191.3 320.6,191.2 321.1,190.7 321.6,191.1 322.1,191.0 322.6,190.3 323.1,191.3 323.6,191.3 324.1,190.9 324.6,190.6 325.1,191.6 325.6,191.2" fill="none" stroke="#3139A8" stroke-width="1.5" stroke-linejoin="round"/>
<path d="M89.6,200.8 90.1,201.0 90.6,199.8 91.1,200.5 91.6,199.8 92.1,199.8 92.6,199.7 93.1,199.7 93.6,200.3 94.1,199.7 94.6,199.5 95.1,199.3 95.6,199.6 96.1,198.9 96.6,199.1 97.1,199.3 97.6,199.0 98.1,199.2 98.6,198.8 99.1,200.2 99.6,199.8 100.1,199.3 100.6,199.0 101.1,200.2 101.6,199.2 102.1,199.0 102.6,199.2 103.1,199.2 103.6,199.8 104.1,199.0 104.6,200.2 105.1,198.6 105.6,199.6 106.1,198.7 106.6,200.3 107.1,199.2 107.6,199.4 108.1,200.0 108.6,200.3 109.1,199.1 109.6,199.6 110.1,199.0 110.6,200.0 111.1,199.9 111.6,199.8 112.1,199.7 112.6,200.0 113.1,199.9 113.6,200.7 114.1,201.3 114.6,199.5 115.1,200.6 115.6,200.5 116.1,201.1 116.6,200.4 117.1,200.9 117.6,200.5 118.1,201.6 118.6,201.3 119.1,201.3 119.6,201.6 120.1,201.4 120.6,200.7 121.1,202.0 121.6,201.9 122.1,201.7 122.6,202.4 123.1,202.6 123.6,201.4 124.1,201.6 124.6,202.9 125.1,202.9 125.6,201.8 126.1,201.6 126.6,202.0 127.1,202.1 127.6,201.5 128.1,202.5 128.6,201.8 129.1,201.9 129.6,203.1 130.1,202.3 130.6,202.7 131.1,203.2 131.6,203.3 132.1,202.8 132.6,203.0 133.1,202.6 133.6,204.1 134.1,203.6 134.6,202.7 135.1,203.4 135.6,203.8 136.1,203.8 136.6,204.6 137.1,204.4 137.6,203.4 138.1,203.7 138.6,203.1 139.1,204.0 139.6,204.0 140.1,205.5 140.6,204.1 141.1,202.9 141.6,203.7 142.1,204.2 142.6,203.5 143.1,203.7 143.6,204.0 144.1,204.5 144.6,204.2 145.1,203.8 145.6,204.8 146.1,204.1 146.6,204.1 147.1,203.6 147.6,204.0 148.1,204.8 148.6,203.5 149.1,204.4 149.6,204.8 150.1,204.2 150.6,204.5 151.1,203.7 151.6,205.1 152.1,204.9 152.6,204.4 153.1,203.3 153.6,203.7 154.1,204.8 154.6,205.2 155.1,204.4 155.6,204.8 156.1,203.7 156.6,203.8 157.1,203.7 157.6,203.8 158.1,202.5 158.6,203.6 159.1,203.6 159.6,202.0 160.1,201.7 160.6,202.5 161.1,201.7 161.6,200.5 162.1,202.0 162.6,201.4 163.1,200.7 163.6,201.9 164.1,200.5 164.6,199.7 165.1,199.9 165.6,198.9 166.1,198.8 166.6,199.0 167.1,198.2 167.6,197.9 168.1,198.6 168.6,197.8 169.1,197.4 169.6,196.8 170.1,196.4 170.6,196.5 171.1,195.2 171.6,195.8 172.1,193.7 172.6,193.7 173.1,192.6 173.6,192.7 174.1,192.8 174.6,192.9 175.1,191.3 175.6,191.3 176.1,190.6 176.6,190.1 177.1,189.5 177.6,189.9 178.1,188.8 178.6,189.6 179.1,189.5 179.6,189.0 180.1,188.7 180.6,188.5 181.1,190.4 181.6,188.7 182.1,190.5 182.6,190.1 183.1,189.8 183.6,189.6 184.1,191.1 184.6,191.9 185.1,190.8 185.6,191.6 186.1,192.8 186.6,192.8 187.1,194.1 187.6,193.1 188.1,194.2 188.6,193.6 189.1,196.0 189.6,194.9 190.1,194.5 190.6,196.1 191.1,196.6 191.6,198.2 192.1,197.4 192.6,198.1 193.1,198.9 193.6,199.9 194.1,199.4 194.6,200.4 195.1,200.5 195.6,200.4 196.1,200.9 196.6,201.1 197.1,200.9 197.6,202.3 198.1,201.1 198.6,202.7 199.1,202.8 199.6,202.5 200.1,202.3 200.6,202.8 201.1,203.4 201.6,203.8 202.1,203.7 202.6,204.3 203.1,203.6 203.6,204.2 204.1,203.3 204.6,204.7 205.1,204.5 205.6,204.2 206.1,205.2 206.6,205.0 207.1,203.1 207.6,204.8 208.1,204.0 208.6,205.5 209.1,206.3 209.6,204.7 210.1,205.0 210.6,204.9 211.1,205.2 211.6,205.3 212.1,205.7 212.6,204.4 213.1,205.8 213.6,204.4 214.1,205.0 214.6,205.5 215.1,205.2 215.6,204.2 216.1,204.3 216.6,204.4 217.1,204.6 217.6,205.2 218.1,203.8 218.6,204.6 219.1,204.6 219.6,204.5 220.1,204.4 220.6,204.8 221.1,204.1 221.6,204.2 222.1,203.9 222.6,204.4 223.1,202.1 223.6,203.6 224.1,202.4 224.6,202.1 225.1,201.3 225.6,200.4 226.1,200.7 226.6,199.9 227.1,199.9 227.6,198.0 228.1,198.7 228.6,197.1 229.1,195.7 229.6,194.2 230.1,192.5 230.6,190.4 231.1,188.5 231.6,186.5 232.1,184.2 232.6,181.2 233.1,179.3 233.6,176.5 234.1,174.4 234.6,172.8 235.1,169.3 235.6,165.9 236.1,162.6 236.6,160.3 237.1,157.9 237.6,157.4 238.1,155.2 238.6,154.5 239.1,153.5 239.6,154.0 240.1,155.2 240.6,154.8 241.1,156.2 241.6,157.6 242.1,160.6 242.6,162.1 243.1,164.8 243.6,167.3 244.1,170.0 244.6,173.8 245.1,177.9 245.6,179.0 246.1,183.0 246.6,185.3 247.1,187.2 247.6,190.0 248.1,192.2 248.6,193.8 249.1,196.9 249.6,196.3 250.1,198.8 250.6,199.8 251.1,200.3 251.6,201.6 252.1,202.8 252.6,203.2 253.1,204.1 253.6,205.0 254.1,204.1 254.6,206.6 255.1,207.4 255.6,207.1 256.1,207.4 256.6,206.3 257.1,207.3 257.6,207.2 258.1,207.5 258.6,208.6 259.1,207.8 259.6,208.3 260.1,207.5 260.6,208.6 261.1,208.9 261.6,208.6 262.1,208.7 262.6,210.3 263.1,208.7 263.6,208.8 264.1,209.0 264.6,210.2 265.1,210.8 265.6,209.9 266.1,209.3 266.6,209.5 267.1,210.4 267.6,209.4 268.1,210.7 268.6,210.8 269.1,210.1 269.6,210.5 270.1,210.6 270.6,211.1 271.1,209.7 271.6,211.0 272.1,210.2 272.6,210.1 273.1,210.6 273.6,210.5 274.1,210.1 274.6,209.8 275.1,210.2 275.6,211.6 276.1,211.9 276.6,211.3 277.1,211.6 277.6,210.7 278.1,211.0 278.6,211.2 279.1,210.5 279.6,210.6 280.1,211.2 280.6,211.0 281.1,210.6 281.6,211.4 282.1,211.0 282.6,211.7 283.1,211.2 283.6,211.0 284.1,211.3 284.6,211.1 285.1,210.8 285.6,211.0 286.1,211.6 286.6,211.6 287.1,211.9 287.6,210.3 288.1,211.0 288.6,211.0 289.1,211.3 289.6,211.0 290.1,211.0 290.6,211.7 291.1,211.4 291.6,210.6 292.1,212.0 292.6,211.8 293.1,211.0 293.6,211.8 294.1,210.9 294.6,211.9 295.1,211.2 295.6,210.9 296.1,211.1 296.6,210.9 297.1,211.5 297.6,211.5 298.1,211.4 298.6,211.1 299.1,209.4 299.6,211.4 300.1,210.8 300.6,211.5 301.1,211.8 301.6,211.5 302.1,211.3 302.6,211.4 303.1,211.4 303.6,211.3 304.1,211.3 304.6,211.2 305.1,211.9 305.6,211.5 306.1,211.8 306.6,211.4 307.1,211.5 307.6,211.5 308.1,211.7 308.6,211.8 309.1,211.6 309.6,211.3 310.1,211.3 310.6,212.1 311.1,211.5 311.6,211.5 312.1,212.1 312.6,211.9 313.1,211.8 313.6,211.5 314.1,212.4 314.6,211.7 315.1,211.8 315.6,211.6 316.1,211.2 316.6,211.2 317.1,211.8 317.6,211.8 318.1,211.6 318.6,211.3 319.1,211.2 319.6,211.5 320.1,211.2 320.6,212.0 321.1,212.0 321.6,212.6 322.1,212.0 322.6,211.5 323.1,211.4 323.6,210.5 324.1,211.5 324.6,211.6 325.1,212.0 325.6,211.9" fill="none" stroke="#DC2424" stroke-width="1.5" stroke-linejoin="round"/>
<line x1="180.0" y1="9.3" x2="180.0" y2="217.9" stroke="#000" stroke-width="1.3" stroke-dasharray="4.5 2.2 1.7 1.41"/>
<line x1="218.3" y1="10.9" x2="218.3" y2="217.9" stroke="#111" stroke-width="1.5" stroke-dasharray="1.9 3.37"/>
<line x1="239.3" y1="9.3" x2="239.3" y2="217.9" stroke="#111" stroke-width="1.25" stroke-dasharray="3.75 1.5"/>
<line x1="280.0" y1="11.3" x2="280.0" y2="217.9" stroke="#222" stroke-width="1.7" stroke-dasharray="6.6 3.95"/>
<text x="76.2" y="35.8" text-anchor="end" class="t13">1.5 × 10</text><text x="77.1" y="28.8" class="t13" style="font-size:8.5px">4</text>
<text x="76.2" y="96.7" text-anchor="end" class="t13">1 × 10</text><text x="77.1" y="89.7" class="t13" style="font-size:8.5px">4</text>
<text x="76.2" y="159.1" text-anchor="end" class="t13">5 × 10</text><text x="77.1" y="152.1" class="t13" style="font-size:8.5px">3</text>
<text x="82.8" y="220.8" text-anchor="end" class="t13">0</text>
<text x="120.4" y="236.3" text-anchor="middle" class="t13">470</text>
<text x="171.9" y="236.3" text-anchor="middle" class="t13">465</text>
<text x="223.5" y="236.3" text-anchor="middle" class="t13">460</text>
<text x="275.0" y="236.3" text-anchor="middle" class="t13">455</text>
<text x="326.6" y="236.3" text-anchor="middle" class="t13">450</text>
<text x="207.8" y="258.5" text-anchor="middle" class="t13">Binding energy (eV)</text>
<text transform="translate(170.7,55.6) rotate(-90)" class="t10"><tspan>TiO</tspan><tspan font-size="5.6" dy="3.90">2</tspan><tspan dy="-3.90"> 2</tspan><tspan font-style="italic">p</tspan><tspan font-size="5.6" dy="3.90">1/2</tspan></text>
<text transform="translate(208.7,51.8) rotate(-90)" class="t10"><tspan>TiN 2</tspan><tspan font-style="italic">p</tspan><tspan font-size="5.6" dy="3.90">1/2</tspan></text>
<text transform="translate(231.6,55.3) rotate(-90)" class="t10"><tspan>TiO</tspan><tspan font-size="5.6" dy="3.90">2</tspan><tspan dy="-3.90"> 2</tspan><tspan font-style="italic">p</tspan><tspan font-size="5.6" dy="3.90">3/2</tspan></text>
<text transform="translate(270.6,50.2) rotate(-90)" class="t10"><tspan>TiN 2</tspan><tspan font-style="italic">p</tspan><tspan font-size="5.6" dy="3.90">3/2</tspan></text>
<text transform="translate(12.0,156.6) rotate(-90)" class="t13">Intensity (a.u.)</text>
<rect x="436.8" y="7.4" width="237.1" height="210.0" fill="none" stroke="#B4B4E2" stroke-width="1"/>
<line x1="468.0" y1="217.4" x2="468.0" y2="213.4" stroke="#B4B4E2" stroke-width="1"/>
<line x1="468.0" y1="7.4" x2="468.0" y2="11.4" stroke="#B4B4E2" stroke-width="1"/>
<line x1="519.5" y1="217.4" x2="519.5" y2="213.4" stroke="#B4B4E2" stroke-width="1"/>
<line x1="519.5" y1="7.4" x2="519.5" y2="11.4" stroke="#B4B4E2" stroke-width="1"/>
<line x1="570.9" y1="217.4" x2="570.9" y2="213.4" stroke="#B4B4E2" stroke-width="1"/>
<line x1="570.9" y1="7.4" x2="570.9" y2="11.4" stroke="#B4B4E2" stroke-width="1"/>
<line x1="622.4" y1="217.4" x2="622.4" y2="213.4" stroke="#B4B4E2" stroke-width="1"/>
<line x1="622.4" y1="7.4" x2="622.4" y2="11.4" stroke="#B4B4E2" stroke-width="1"/>
<line x1="436.8" y1="32.1" x2="440.8" y2="32.1" stroke="#B4B4E2" stroke-width="1"/>
<line x1="673.9" y1="32.1" x2="669.9" y2="32.1" stroke="#B4B4E2" stroke-width="1"/>
<line x1="436.8" y1="93.7" x2="440.8" y2="93.7" stroke="#B4B4E2" stroke-width="1"/>
<line x1="673.9" y1="93.7" x2="669.9" y2="93.7" stroke="#B4B4E2" stroke-width="1"/>
<line x1="436.8" y1="155.8" x2="440.8" y2="155.8" stroke="#B4B4E2" stroke-width="1"/>
<line x1="673.9" y1="155.8" x2="669.9" y2="155.8" stroke="#B4B4E2" stroke-width="1"/>
<path d="M437.4,77.0 437.9,76.8 438.4,77.1 438.9,77.7 439.4,75.8 439.9,76.3 440.4,75.6 440.9,77.8 441.4,77.6 441.9,77.2 442.4,75.7 442.9,76.7 443.4,76.4 443.9,76.7 444.4,76.5 444.9,77.0 445.4,76.3 445.9,77.2 446.4,76.8 446.9,76.4 447.4,76.6 447.9,76.4 448.4,77.3 448.9,76.6 449.4,77.0 449.9,76.6 450.4,75.8 450.9,77.6 451.4,76.2 451.9,77.6 452.4,77.4 452.9,75.9 453.4,76.4 453.9,76.8 454.4,76.6 454.9,76.3 455.4,77.8 455.9,77.0 456.4,77.5 456.9,76.9 457.4,77.4 457.9,76.6 458.4,77.2 458.9,77.6 459.4,77.2 459.9,76.9 460.4,76.4 460.9,77.3 461.4,77.5 461.9,77.0 462.4,76.6 462.9,77.6 463.4,79.1 463.9,77.0 464.4,77.5 464.9,77.5 465.4,75.3 465.9,77.3 466.4,76.6 466.9,78.2 467.4,76.9 467.9,76.5 468.4,76.9 468.9,77.2 469.4,76.6 469.9,76.9 470.4,75.9 470.9,76.7 471.4,77.5 471.9,78.3 472.4,77.4 472.9,77.0 473.4,77.7 473.9,77.6 474.4,78.0 474.9,77.6 475.4,76.7 475.9,77.0 476.4,77.0 476.9,77.1 477.4,77.0 477.9,76.3 478.4,75.3 478.9,76.4 479.4,75.4 479.9,77.0 480.4,77.0 480.9,75.7 481.4,77.5 481.9,77.7 482.4,77.1 482.9,78.3 483.4,78.5 483.9,76.2 484.4,77.9 484.9,77.5 485.4,77.5 485.9,77.9 486.4,76.7 486.9,76.9 487.4,76.7 487.9,76.8 488.4,77.3 488.9,76.4 489.4,76.7 489.9,78.0 490.4,77.5 490.9,77.9 491.4,76.2 491.9,77.1 492.4,77.3 492.9,77.7 493.4,77.3 493.9,78.4 494.4,77.7 494.9,77.7 495.4,77.7 495.9,78.3 496.4,77.4 496.9,78.6 497.4,78.1 497.9,77.9 498.4,77.8 498.9,78.2 499.4,78.5 499.9,78.5 500.4,78.1 500.9,78.4 501.4,77.9 501.9,78.7 502.4,77.8 502.9,76.2 503.4,78.8 503.9,77.9 504.4,76.9 504.9,77.6 505.4,77.1 505.9,79.3 506.4,78.1 506.9,76.5 507.4,78.1 507.9,77.3 508.4,79.0 508.9,76.7 509.4,75.7 509.9,77.4 510.4,77.0 510.9,76.9 511.4,75.5 511.9,77.4 512.4,78.2 512.9,75.5 513.4,77.7 513.9,76.3 514.4,78.5 514.9,76.9 515.4,76.4 515.9,77.3 516.4,76.8 516.9,75.9 517.4,76.8 517.9,75.9 518.4,74.8 518.9,77.6 519.4,75.8 519.9,75.5 520.4,76.2 520.9,74.7 521.4,74.8 521.9,75.4 522.4,75.3 522.9,75.7 523.4,76.4 523.9,75.1 524.4,75.8 524.9,75.8 525.4,74.4 525.9,75.3 526.4,74.3 526.9,75.8 527.4,75.2 527.9,74.8 528.4,73.6 528.9,74.6 529.4,73.7 529.9,74.7 530.4,73.9 530.9,73.2 531.4,74.4 531.9,74.1 532.4,73.0 532.9,74.2 533.4,73.0 533.9,72.9 534.4,73.2 534.9,72.4 535.4,72.6 535.9,72.8 536.4,74.0 536.9,73.9 537.4,72.5 537.9,73.8 538.4,72.5 538.9,72.7 539.4,73.0 539.9,72.5 540.4,74.0 540.9,72.2 541.4,71.1 541.9,72.8 542.4,71.4 542.9,71.4 543.4,69.2 543.9,72.1 544.4,71.8 544.9,71.6 545.4,71.6 545.9,72.0 546.4,70.5 546.9,71.1 547.4,69.6 547.9,69.7 548.4,70.5 548.9,69.7 549.4,68.2 549.9,69.2 550.4,68.5 550.9,67.7 551.4,68.3 551.9,67.4 552.4,66.2 552.9,66.2 553.4,68.0 553.9,65.2 554.4,66.1 554.9,66.0 555.4,65.6 555.9,63.8 556.4,64.0 556.9,63.9 557.4,64.0 557.9,62.4 558.4,61.5 558.9,62.6 559.4,62.1 559.9,61.0 560.4,59.8 560.9,60.1 561.4,59.4 561.9,59.5 562.4,57.4 562.9,58.0 563.4,57.5 563.9,56.5 564.4,57.3 564.9,57.1 565.4,56.6 565.9,57.2 566.4,55.9 566.9,57.1 567.4,57.9 567.9,58.2 568.4,59.2 568.9,58.0 569.4,58.4 569.9,60.4 570.4,61.4 570.9,63.5 571.4,63.2 571.9,62.8 572.4,64.8 572.9,64.3 573.4,64.6 573.9,68.4 574.4,67.4 574.9,68.5 575.4,69.2 575.9,70.9 576.4,70.4 576.9,71.6 577.4,70.4 577.9,70.7 578.4,73.2 578.9,73.5 579.4,72.9 579.9,72.7 580.4,72.6 580.9,71.9 581.4,73.5 581.9,72.8 582.4,72.6 582.9,72.4 583.4,72.8 583.9,72.3 584.4,72.4 584.9,70.8 585.4,72.0 585.9,73.1 586.4,70.9 586.9,71.1 587.4,71.7 587.9,71.6 588.4,71.1 588.9,69.3 589.4,70.6 589.9,69.2 590.4,69.2 590.9,70.0 591.4,69.1 591.9,69.7 592.4,71.3 592.9,69.2 593.4,68.9 593.9,67.4 594.4,67.3 594.9,66.7 595.4,66.8 595.9,66.1 596.4,66.1 596.9,66.2 597.4,65.3 597.9,64.8 598.4,64.6 598.9,65.8 599.4,65.3 599.9,65.9 600.4,65.7 600.9,64.6 601.4,65.2 601.9,63.5 602.4,66.1 602.9,65.2 603.4,64.0 603.9,63.2 604.4,64.3 604.9,62.5 605.4,63.3 605.9,64.4 606.4,63.8 606.9,63.3 607.4,64.3 607.9,62.7 608.4,63.6 608.9,62.9 609.4,62.4 609.9,63.1 610.4,61.7 610.9,63.5 611.4,61.3 611.9,62.8 612.4,60.1 612.9,61.0 613.4,59.2 613.9,58.7 614.4,59.3 614.9,59.2 615.4,57.2 615.9,58.5 616.4,56.5 616.9,56.6 617.4,56.1 617.9,55.7 618.4,53.2 618.9,55.0 619.4,53.4 619.9,51.9 620.4,50.4 620.9,48.8 621.4,47.8 621.9,48.0 622.4,46.0 622.9,44.3 623.4,43.7 623.9,44.2 624.4,41.7 624.9,40.4 625.4,40.5 625.9,38.7 626.4,37.5 626.9,36.8 627.4,36.2 627.9,36.7 628.4,38.1 628.9,39.4 629.4,40.8 629.9,42.6 630.4,45.2 630.9,49.2 631.4,54.0 631.9,57.7 632.4,61.8 632.9,64.2 633.4,67.4 633.9,70.7 634.4,72.9 634.9,75.9 635.4,79.3 635.9,82.1 636.4,83.9 636.9,86.5 637.4,87.3 637.9,87.8 638.4,89.6 638.9,91.7 639.4,90.4 639.9,92.4 640.4,93.1 640.9,93.6 641.4,92.3 641.9,94.8 642.4,93.7 642.9,93.8 643.4,94.1 643.9,94.8 644.4,94.8 644.9,94.9 645.4,95.8 645.9,95.0 646.4,95.0 646.9,95.9 647.4,96.0 647.9,96.3 648.4,95.4 648.9,96.5 649.4,96.3 649.9,96.9 650.4,95.6 650.9,96.3 651.4,96.1 651.9,95.6 652.4,96.0 652.9,96.8 653.4,96.2 653.9,96.1 654.4,96.8 654.9,96.9 655.4,96.9 655.9,96.1 656.4,96.5 656.9,97.0 657.4,96.2 657.9,96.2 658.4,96.9 658.9,97.3 659.4,96.1 659.9,95.4 660.4,96.0 660.9,96.2 661.4,96.6 661.9,96.9 662.4,96.6 662.9,96.4 663.4,96.8 663.9,96.3 664.4,96.7 664.9,96.4 665.4,97.9 665.9,97.1 666.4,96.4 666.9,96.3 667.4,96.6 667.9,96.0 668.4,96.4 668.9,96.4 669.4,97.2 669.9,96.6 670.4,96.4 670.9,96.2 671.4,96.3 671.9,96.8 672.4,96.7 672.9,97.3" fill="none" stroke="#E6197D" stroke-width="1.5" stroke-linejoin="round"/>
<path d="M437.4,109.2 437.9,110.3 438.4,109.8 438.9,109.6 439.4,108.2 439.9,108.7 440.4,110.1 440.9,110.6 441.4,109.7 441.9,110.1 442.4,109.3 442.9,109.3 443.4,109.1 443.9,110.3 444.4,109.8 444.9,109.4 445.4,109.4 445.9,110.0 446.4,109.8 446.9,109.1 447.4,110.9 447.9,109.9 448.4,109.7 448.9,110.8 449.4,110.6 449.9,109.8 450.4,110.3 450.9,109.3 451.4,109.6 451.9,108.5 452.4,111.0 452.9,108.9 453.4,110.7 453.9,109.7 454.4,109.7 454.9,110.3 455.4,110.6 455.9,110.9 456.4,111.7 456.9,110.8 457.4,111.1 457.9,110.1 458.4,111.1 458.9,110.7 459.4,110.3 459.9,110.6 460.4,110.6 460.9,110.8 461.4,111.0 461.9,110.4 462.4,110.2 462.9,111.3 463.4,109.6 463.9,110.4 464.4,111.9 464.9,108.9 465.4,110.3 465.9,111.3 466.4,109.6 466.9,112.6 467.4,108.9 467.9,111.7 468.4,111.8 468.9,111.3 469.4,110.4 469.9,110.8 470.4,109.9 470.9,111.1 471.4,109.7 471.9,110.3 472.4,111.1 472.9,109.6 473.4,110.2 473.9,110.5 474.4,109.5 474.9,111.2 475.4,110.6 475.9,109.3 476.4,110.4 476.9,109.9 477.4,110.0 477.9,110.5 478.4,109.9 478.9,111.1 479.4,109.9 479.9,111.1 480.4,110.4 480.9,111.1 481.4,110.1 481.9,110.1 482.4,109.7 482.9,110.9 483.4,111.2 483.9,112.0 484.4,111.4 484.9,110.7 485.4,110.4 485.9,110.9 486.4,110.6 486.9,111.7 487.4,111.4 487.9,110.2 488.4,110.4 488.9,111.9 489.4,111.2 489.9,110.9 490.4,111.9 490.9,110.9 491.4,111.0 491.9,110.9 492.4,109.9 492.9,111.9 493.4,110.5 493.9,110.9 494.4,110.8 494.9,111.9 495.4,111.3 495.9,111.4 496.4,110.2 496.9,111.3 497.4,110.4 497.9,111.6 498.4,111.7 498.9,111.4 499.4,112.9 499.9,111.8 500.4,111.9 500.9,111.6 501.4,111.3 501.9,112.2 502.4,112.3 502.9,110.6 503.4,112.2 503.9,111.9 504.4,112.2 504.9,111.8 505.4,110.6 505.9,110.6 506.4,112.7 506.9,111.6 507.4,110.4 507.9,111.6 508.4,111.0 508.9,109.9 509.4,109.6 509.9,110.0 510.4,111.2 510.9,110.9 511.4,110.7 511.9,111.0 512.4,111.2 512.9,109.2 513.4,110.4 513.9,110.0 514.4,109.6 514.9,110.0 515.4,110.3 515.9,110.1 516.4,109.2 516.9,109.8 517.4,111.5 517.9,109.3 518.4,108.7 518.9,110.0 519.4,110.2 519.9,110.0 520.4,108.8 520.9,110.2 521.4,108.9 521.9,108.5 522.4,108.8 522.9,109.1 523.4,109.5 523.9,109.4 524.4,108.8 524.9,109.4 525.4,108.7 525.9,109.2 526.4,107.5 526.9,107.3 527.4,108.8 527.9,107.2 528.4,107.8 528.9,107.9 529.4,107.5 529.9,107.4 530.4,108.5 530.9,105.7 531.4,108.0 531.9,108.8 532.4,107.1 532.9,107.0 533.4,107.4 533.9,108.1 534.4,105.9 534.9,106.7 535.4,106.5 535.9,106.9 536.4,106.6 536.9,106.8 537.4,106.0 537.9,106.3 538.4,105.7 538.9,105.6 539.4,105.9 539.9,105.8 540.4,105.0 540.9,106.9 541.4,105.6 541.9,104.6 542.4,106.2 542.9,104.8 543.4,105.6 543.9,105.1 544.4,105.2 544.9,105.1 545.4,104.4 545.9,104.8 546.4,106.0 546.9,102.9 547.4,104.5 547.9,104.6 548.4,103.5 548.9,103.1 549.4,105.5 549.9,103.6 550.4,105.2 550.9,103.9 551.4,103.5 551.9,103.5 552.4,103.4 552.9,103.5 553.4,102.7 553.9,102.2 554.4,101.9 554.9,102.3 555.4,101.6 555.9,99.9 556.4,99.8 556.9,100.1 557.4,99.0 557.9,98.7 558.4,97.7 558.9,97.7 559.4,97.6 559.9,97.5 560.4,96.3 560.9,97.3 561.4,95.2 561.9,97.0 562.4,94.9 562.9,94.1 563.4,92.9 563.9,91.0 564.4,92.6 564.9,92.6 565.4,93.6 565.9,91.2 566.4,93.6 566.9,92.2 567.4,93.1 567.9,91.1 568.4,93.4 568.9,93.4 569.4,94.5 569.9,94.5 570.4,94.1 570.9,96.2 571.4,96.7 571.9,97.3 572.4,98.3 572.9,99.1 573.4,99.1 573.9,99.0 574.4,99.8 574.9,102.6 575.4,103.0 575.9,103.2 576.4,103.4 576.9,104.3 577.4,104.7 577.9,104.9 578.4,105.0 578.9,107.4 579.4,106.4 579.9,106.1 580.4,105.9 580.9,106.6 581.4,107.7 581.9,107.7 582.4,106.8 582.9,106.7 583.4,106.1 583.9,105.1 584.4,106.5 584.9,105.6 585.4,106.7 585.9,104.2 586.4,104.3 586.9,104.8 587.4,103.8 587.9,102.9 588.4,103.0 588.9,103.6 589.4,103.7 589.9,103.3 590.4,103.9 590.9,103.8 591.4,103.3 591.9,102.9 592.4,102.6 592.9,103.1 593.4,103.2 593.9,102.4 594.4,102.6 594.9,101.9 595.4,101.0 595.9,101.1 596.4,102.2 596.9,101.8 597.4,102.5 597.9,101.3 598.4,101.7 598.9,101.8 599.4,101.5 599.9,100.2 600.4,100.3 600.9,100.4 601.4,99.4 601.9,100.3 602.4,100.5 602.9,99.3 603.4,100.9 603.9,99.1 604.4,99.1 604.9,98.9 605.4,98.5 605.9,99.1 606.4,98.7 606.9,99.7 607.4,98.9 607.9,98.7 608.4,98.0 608.9,96.9 609.4,97.6 609.9,96.9 610.4,97.9 610.9,96.9 611.4,97.8 611.9,96.8 612.4,96.5 612.9,95.7 613.4,95.2 613.9,95.0 614.4,94.7 614.9,93.1 615.4,93.3 615.9,94.3 616.4,91.7 616.9,91.0 617.4,90.0 617.9,88.7 618.4,89.8 618.9,88.3 619.4,87.6 619.9,87.8 620.4,87.3 620.9,83.9 621.4,84.2 621.9,82.8 622.4,81.6 622.9,80.6 623.4,79.3 623.9,79.4 624.4,77.7 624.9,76.6 625.4,76.5 625.9,75.5 626.4,74.4 626.9,73.6 627.4,74.3 627.9,73.4 628.4,73.3 628.9,73.3 629.4,74.7 629.9,76.1 630.4,78.8 630.9,81.0 631.4,81.6 631.9,85.5 632.4,88.8 632.9,91.8 633.4,95.2 633.9,102.1 634.4,104.1 634.9,106.4 635.4,108.8 635.9,111.6 636.4,114.3 636.9,116.2 637.4,117.2 637.9,117.6 638.4,119.2 638.9,120.2 639.4,121.8 639.9,121.6 640.4,123.7 640.9,124.7 641.4,124.7 641.9,125.6 642.4,125.3 642.9,125.4 643.4,126.1 643.9,127.2 644.4,127.5 644.9,127.2 645.4,128.2 645.9,127.8 646.4,128.8 646.9,128.6 647.4,128.3 647.9,128.9 648.4,128.4 648.9,128.4 649.4,128.2 649.9,129.0 650.4,128.9 650.9,129.0 651.4,128.9 651.9,129.7 652.4,129.0 652.9,128.9 653.4,129.8 653.9,129.9 654.4,129.4 654.9,128.6 655.4,129.1 655.9,129.6 656.4,129.3 656.9,130.0 657.4,128.8 657.9,129.7 658.4,129.1 658.9,130.0 659.4,129.4 659.9,129.9 660.4,129.2 660.9,128.9 661.4,129.0 661.9,129.2 662.4,129.1 662.9,130.0 663.4,130.1 663.9,129.6 664.4,129.1 664.9,129.5 665.4,129.2 665.9,130.2 666.4,129.7 666.9,129.8 667.4,129.4 667.9,128.7 668.4,129.2 668.9,129.1 669.4,129.7 669.9,129.6 670.4,129.3 670.9,129.4 671.4,130.3 671.9,129.2 672.4,129.2 672.9,129.5" fill="none" stroke="#7F18B2" stroke-width="1.5" stroke-linejoin="round"/>
<path d="M437.4,140.6 437.9,140.8 438.4,141.4 438.9,142.2 439.4,139.9 439.9,141.1 440.4,141.1 440.9,141.0 441.4,141.0 441.9,140.9 442.4,141.8 442.9,140.8 443.4,141.0 443.9,141.1 444.4,141.2 444.9,141.0 445.4,141.7 445.9,141.1 446.4,141.2 446.9,141.1 447.4,140.4 447.9,140.6 448.4,140.4 448.9,141.2 449.4,140.6 449.9,140.4 450.4,141.3 450.9,141.4 451.4,140.0 451.9,142.2 452.4,141.1 452.9,141.0 453.4,141.8 453.9,141.1 454.4,140.7 454.9,142.5 455.4,140.4 455.9,141.0 456.4,141.7 456.9,140.5 457.4,141.1 457.9,141.5 458.4,142.8 458.9,140.7 459.4,141.3 459.9,141.8 460.4,141.5 460.9,140.7 461.4,141.8 461.9,141.6 462.4,141.9 462.9,142.4 463.4,142.3 463.9,141.9 464.4,141.9 464.9,141.0 465.4,141.6 465.9,141.9 466.4,141.5 466.9,141.8 467.4,141.2 467.9,142.7 468.4,143.1 468.9,141.5 469.4,142.0 469.9,141.6 470.4,142.6 470.9,142.0 471.4,141.8 471.9,141.6 472.4,141.9 472.9,141.1 473.4,142.2 473.9,141.3 474.4,142.2 474.9,141.9 475.4,142.5 475.9,141.8 476.4,142.5 476.9,141.3 477.4,142.3 477.9,141.8 478.4,142.1 478.9,142.1 479.4,142.7 479.9,140.8 480.4,142.4 480.9,141.2 481.4,143.0 481.9,141.0 482.4,141.7 482.9,141.3 483.4,143.4 483.9,141.6 484.4,142.5 484.9,142.1 485.4,141.4 485.9,142.3 486.4,143.0 486.9,142.5 487.4,143.3 487.9,142.5 488.4,142.8 488.9,142.6 489.4,143.1 489.9,144.1 490.4,143.1 490.9,143.1 491.4,142.6 491.9,142.5 492.4,143.9 492.9,142.3 493.4,142.4 493.9,142.9 494.4,142.7 494.9,144.3 495.4,141.5 495.9,143.2 496.4,143.5 496.9,142.3 497.4,142.6 497.9,143.3 498.4,144.1 498.9,142.4 499.4,142.0 499.9,143.6 500.4,144.0 500.9,142.8 501.4,141.6 501.9,143.9 502.4,142.9 502.9,143.7 503.4,143.0 503.9,142.7 504.4,142.7 504.9,143.9 505.4,143.9 505.9,141.5 506.4,142.3 506.9,144.0 507.4,142.6 507.9,141.9 508.4,142.7 508.9,142.6 509.4,142.6 509.9,142.3 510.4,142.4 510.9,142.2 511.4,142.7 511.9,141.9 512.4,142.2 512.9,142.3 513.4,143.2 513.9,142.5 514.4,142.2 514.9,142.6 515.4,142.4 515.9,142.8 516.4,142.4 516.9,143.2 517.4,142.9 517.9,141.9 518.4,141.6 518.9,142.4 519.4,142.1 519.9,141.7 520.4,140.7 520.9,140.4 521.4,141.8 521.9,142.0 522.4,141.9 522.9,140.5 523.4,141.9 523.9,140.7 524.4,141.2 524.9,141.1 525.4,140.1 525.9,140.1 526.4,139.0 526.9,139.6 527.4,138.9 527.9,140.2 528.4,139.8 528.9,140.2 529.4,139.7 529.9,138.8 530.4,139.3 530.9,138.7 531.4,139.1 531.9,138.8 532.4,137.7 532.9,138.2 533.4,138.1 533.9,137.7 534.4,138.3 534.9,138.7 535.4,137.2 535.9,137.1 536.4,135.7 536.9,137.0 537.4,136.7 537.9,135.4 538.4,136.9 538.9,137.0 539.4,136.0 539.9,136.2 540.4,135.8 540.9,136.9 541.4,135.4 541.9,136.2 542.4,137.7 542.9,136.5 543.4,136.8 543.9,136.4 544.4,135.7 544.9,136.5 545.4,136.8 545.9,135.8 546.4,136.7 546.9,137.3 547.4,137.1 547.9,135.3 548.4,135.5 548.9,135.0 549.4,136.6 549.9,136.1 550.4,136.0 550.9,134.8 551.4,134.4 551.9,135.1 552.4,134.8 552.9,134.0 553.4,134.3 553.9,134.3 554.4,133.7 554.9,132.6 555.4,131.5 555.9,132.4 556.4,132.3 556.9,131.7 557.4,131.2 557.9,130.7 558.4,131.3 558.9,130.4 559.4,130.2 559.9,129.1 560.4,128.9 560.9,129.0 561.4,127.8 561.9,127.3 562.4,127.4 562.9,127.9 563.4,126.7 563.9,127.0 564.4,125.5 564.9,124.9 565.4,123.9 565.9,124.2 566.4,125.2 566.9,124.3 567.4,124.4 567.9,124.3 568.4,123.9 568.9,124.2 569.4,125.0 569.9,126.0 570.4,126.5 570.9,127.3 571.4,127.9 571.9,128.2 572.4,129.4 572.9,129.7 573.4,131.7 573.9,130.4 574.4,132.4 574.9,134.8 575.4,133.7 575.9,133.8 576.4,135.0 576.9,136.4 577.4,135.9 577.9,136.9 578.4,136.9 578.9,136.9 579.4,139.4 579.9,137.6 580.4,137.4 580.9,137.5 581.4,138.2 581.9,138.3 582.4,138.5 582.9,137.9 583.4,136.7 583.9,137.7 584.4,136.8 584.9,136.6 585.4,135.7 585.9,136.0 586.4,135.7 586.9,136.0 587.4,134.9 587.9,135.6 588.4,135.4 588.9,134.4 589.4,134.5 589.9,134.1 590.4,135.0 590.9,132.5 591.4,133.7 591.9,132.7 592.4,133.3 592.9,133.9 593.4,132.8 593.9,133.1 594.4,132.4 594.9,134.0 595.4,133.2 595.9,133.3 596.4,131.5 596.9,131.6 597.4,132.9 597.9,131.9 598.4,131.7 598.9,132.0 599.4,130.8 599.9,132.0 600.4,131.4 600.9,131.6 601.4,130.7 601.9,131.4 602.4,130.5 602.9,131.4 603.4,131.4 603.9,131.1 604.4,130.8 604.9,130.7 605.4,128.4 605.9,130.6 606.4,129.8 606.9,129.9 607.4,129.5 607.9,128.7 608.4,129.0 608.9,129.7 609.4,130.0 609.9,128.4 610.4,128.0 610.9,129.4 611.4,127.6 611.9,129.3 612.4,127.7 612.9,126.8 613.4,127.7 613.9,127.9 614.4,125.5 614.9,127.1 615.4,125.5 615.9,126.3 616.4,124.6 616.9,123.3 617.4,124.0 617.9,123.5 618.4,123.4 618.9,122.2 619.4,120.7 619.9,119.2 620.4,118.2 620.9,117.5 621.4,116.3 621.9,115.8 622.4,113.4 622.9,114.4 623.4,113.4 623.9,114.2 624.4,112.1 624.9,110.4 625.4,110.2 625.9,108.4 626.4,108.2 626.9,106.8 627.4,108.6 627.9,107.9 628.4,107.0 628.9,108.4 629.4,109.8 629.9,110.9 630.4,112.9 630.9,114.5 631.4,117.0 631.9,120.2 632.4,123.6 632.9,125.4 633.4,128.2 633.9,133.0 634.4,134.8 634.9,139.1 635.4,141.0 635.9,143.5 636.4,146.0 636.9,147.2 637.4,149.0 637.9,149.6 638.4,151.2 638.9,153.3 639.4,154.9 639.9,155.6 640.4,157.0 640.9,156.2 641.4,156.6 641.9,157.5 642.4,157.2 642.9,157.4 643.4,157.3 643.9,158.3 644.4,157.7 644.9,158.5 645.4,158.0 645.9,159.1 646.4,158.4 646.9,159.3 647.4,158.4 647.9,158.9 648.4,159.6 648.9,158.8 649.4,159.2 649.9,159.0 650.4,158.3 650.9,159.4 651.4,159.5 651.9,158.9 652.4,159.6 652.9,159.0 653.4,159.0 653.9,159.4 654.4,159.1 654.9,160.3 655.4,158.8 655.9,159.7 656.4,159.8 656.9,158.7 657.4,158.8 657.9,159.7 658.4,159.3 658.9,159.6 659.4,159.9 659.9,159.3 660.4,159.1 660.9,158.4 661.4,159.6 661.9,159.2 662.4,159.6 662.9,159.6 663.4,159.0 663.9,160.2 664.4,160.0 664.9,159.9 665.4,159.1 665.9,159.4 666.4,159.4 666.9,159.4 667.4,159.1 667.9,159.7 668.4,159.7 668.9,159.7 669.4,159.4 669.9,160.1 670.4,159.7 670.9,158.5 671.4,159.3 671.9,159.6 672.4,160.0 672.9,159.5" fill="none" stroke="#0C6A1C" stroke-width="1.5" stroke-linejoin="round"/>
<path d="M437.4,170.0 437.9,169.7 438.4,170.6 438.9,169.9 439.4,169.8 439.9,169.8 440.4,170.6 440.9,170.0 441.4,169.3 441.9,170.7 442.4,169.9 442.9,170.6 443.4,170.6 443.9,171.1 444.4,171.1 444.9,170.1 445.4,170.4 445.9,169.7 446.4,171.6 446.9,170.8 447.4,171.4 447.9,170.5 448.4,169.4 448.9,171.6 449.4,170.8 449.9,170.9 450.4,170.8 450.9,171.2 451.4,171.2 451.9,170.0 452.4,171.6 452.9,170.6 453.4,170.7 453.9,172.0 454.4,171.5 454.9,170.8 455.4,169.9 455.9,171.1 456.4,171.3 456.9,170.9 457.4,170.2 457.9,170.4 458.4,170.1 458.9,171.0 459.4,171.3 459.9,171.4 460.4,170.3 460.9,170.9 461.4,171.0 461.9,170.4 462.4,170.6 462.9,171.9 463.4,170.7 463.9,171.1 464.4,170.3 464.9,170.6 465.4,169.6 465.9,170.6 466.4,171.3 466.9,171.9 467.4,171.4 467.9,171.1 468.4,170.7 468.9,170.4 469.4,170.6 469.9,171.1 470.4,170.3 470.9,171.4 471.4,170.3 471.9,169.8 472.4,170.3 472.9,169.9 473.4,170.1 473.9,171.7 474.4,170.9 474.9,171.2 475.4,171.8 475.9,171.9 476.4,170.8 476.9,172.0 477.4,171.4 477.9,171.2 478.4,171.5 478.9,170.4 479.4,170.9 479.9,171.3 480.4,171.8 480.9,171.2 481.4,171.4 481.9,172.1 482.4,172.4 482.9,172.0 483.4,172.3 483.9,171.4 484.4,171.5 484.9,171.9 485.4,171.5 485.9,171.4 486.4,172.7 486.9,171.7 487.4,171.2 487.9,172.1 488.4,173.0 488.9,171.9 489.4,172.6 489.9,171.7 490.4,171.6 490.9,171.5 491.4,171.9 491.9,173.1 492.4,171.3 492.9,173.0 493.4,171.4 493.9,171.9 494.4,172.5 494.9,172.4 495.4,172.1 495.9,171.0 496.4,172.2 496.9,171.3 497.4,173.4 497.9,171.8 498.4,172.0 498.9,171.1 499.4,171.5 499.9,171.0 500.4,172.3 500.9,171.6 501.4,172.0 501.9,171.2 502.4,171.3 502.9,172.4 503.4,171.0 503.9,170.4 504.4,171.7 504.9,170.7 505.4,171.1 505.9,171.9 506.4,170.8 506.9,171.7 507.4,170.7 507.9,172.0 508.4,171.8 508.9,170.7 509.4,170.8 509.9,170.3 510.4,170.9 510.9,171.4 511.4,169.8 511.9,171.1 512.4,169.7 512.9,169.9 513.4,169.3 513.9,171.6 514.4,170.3 514.9,170.3 515.4,169.7 515.9,170.7 516.4,168.7 516.9,169.9 517.4,171.1 517.9,169.5 518.4,169.7 518.9,170.0 519.4,169.0 519.9,169.5 520.4,169.9 520.9,169.4 521.4,169.4 521.9,168.9 522.4,169.2 522.9,168.9 523.4,169.7 523.9,169.1 524.4,168.4 524.9,167.0 525.4,168.8 525.9,168.7 526.4,167.5 526.9,166.8 527.4,167.2 527.9,168.3 528.4,167.0 528.9,167.2 529.4,167.5 529.9,167.9 530.4,167.0 530.9,166.8 531.4,166.4 531.9,167.6 532.4,167.2 532.9,166.4 533.4,165.5 533.9,165.7 534.4,166.5 534.9,165.6 535.4,166.5 535.9,166.1 536.4,166.0 536.9,166.2 537.4,166.1 537.9,165.3 538.4,165.6 538.9,167.1 539.4,165.0 539.9,165.4 540.4,166.4 540.9,165.6 541.4,165.2 541.9,164.9 542.4,166.0 542.9,166.3 543.4,166.5 543.9,165.7 544.4,166.3 544.9,165.1 545.4,165.8 545.9,165.4 546.4,165.9 546.9,166.3 547.4,166.5 547.9,165.3 548.4,166.6 548.9,165.6 549.4,165.3 549.9,165.8 550.4,165.0 550.9,165.8 551.4,165.8 551.9,165.4 552.4,165.6 552.9,164.9 553.4,164.9 553.9,163.8 554.4,164.4 554.9,163.6 555.4,163.5 555.9,163.3 556.4,163.1 556.9,161.7 557.4,161.3 557.9,161.8 558.4,161.9 558.9,161.6 559.4,161.6 559.9,161.6 560.4,160.8 560.9,160.2 561.4,159.4 561.9,159.3 562.4,159.4 562.9,159.6 563.4,159.4 563.9,159.1 564.4,158.9 564.9,159.3 565.4,159.0 565.9,159.2 566.4,159.5 566.9,159.4 567.4,159.6 567.9,161.1 568.4,161.5 568.9,161.5 569.4,161.8 569.9,163.8 570.4,162.3 570.9,163.0 571.4,163.7 571.9,163.2 572.4,164.3 572.9,165.6 573.4,165.5 573.9,165.7 574.4,166.0 574.9,166.1 575.4,166.8 575.9,166.3 576.4,166.1 576.9,166.4 577.4,166.8 577.9,166.3 578.4,166.3 578.9,164.5 579.4,166.2 579.9,166.6 580.4,165.6 580.9,164.2 581.4,163.3 581.9,163.5 582.4,162.1 582.9,162.6 583.4,161.4 583.9,161.8 584.4,161.6 584.9,159.1 585.4,160.0 585.9,158.9 586.4,158.1 586.9,158.2 587.4,158.1 587.9,158.5 588.4,156.6 588.9,157.8 589.4,158.1 589.9,157.0 590.4,156.9 590.9,156.5 591.4,156.0 591.9,157.2 592.4,157.5 592.9,158.1 593.4,159.5 593.9,158.7 594.4,158.7 594.9,159.5 595.4,157.9 595.9,158.1 596.4,158.7 596.9,158.7 597.4,159.6 597.9,159.1 598.4,160.4 598.9,160.4 599.4,160.1 599.9,159.5 600.4,160.2 600.9,160.4 601.4,159.4 601.9,160.4 602.4,160.7 602.9,160.4 603.4,161.2 603.9,161.0 604.4,159.8 604.9,160.4 605.4,159.8 605.9,160.6 606.4,159.8 606.9,160.9 607.4,160.5 607.9,160.9 608.4,160.2 608.9,159.4 609.4,161.3 609.9,160.0 610.4,160.8 610.9,160.1 611.4,160.0 611.9,160.5 612.4,159.3 612.9,159.7 613.4,157.8 613.9,159.0 614.4,158.1 614.9,157.9 615.4,157.8 615.9,157.8 616.4,158.3 616.9,156.0 617.4,156.8 617.9,156.1 618.4,156.9 618.9,155.7 619.4,155.9 619.9,155.0 620.4,155.1 620.9,154.8 621.4,153.4 621.9,153.2 622.4,151.9 622.9,152.5 623.4,152.5 623.9,151.3 624.4,152.0 624.9,149.8 625.4,149.9 625.9,150.3 626.4,151.0 626.9,151.7 627.4,152.1 627.9,152.6 628.4,153.8 628.9,154.1 629.4,154.9 629.9,157.1 630.4,161.9 630.9,161.8 631.4,165.5 631.9,168.8 632.4,170.5 632.9,171.8 633.4,174.3 633.9,176.7 634.4,178.6 634.9,178.9 635.4,181.1 635.9,181.6 636.4,182.8 636.9,183.6 637.4,183.1 637.9,182.9 638.4,184.4 638.9,185.5 639.4,185.2 639.9,185.2 640.4,186.7 640.9,184.9 641.4,186.3 641.9,185.6 642.4,186.2 642.9,186.3 643.4,187.0 643.9,186.2 644.4,186.4 644.9,186.1 645.4,187.0 645.9,186.7 646.4,187.1 646.9,186.6 647.4,186.9 647.9,187.4 648.4,187.0 648.9,187.3 649.4,187.3 649.9,187.0 650.4,186.5 650.9,187.5 651.4,187.2 651.9,187.5 652.4,186.4 652.9,186.6 653.4,186.4 653.9,186.9 654.4,187.6 654.9,187.4 655.4,187.2 655.9,187.3 656.4,187.5 656.9,187.1 657.4,187.4 657.9,187.3 658.4,186.5 658.9,187.1 659.4,187.8 659.9,187.1 660.4,187.2 660.9,187.1 661.4,187.1 661.9,187.7 662.4,187.2 662.9,187.0 663.4,186.2 663.9,187.1 664.4,186.6 664.9,186.7 665.4,187.6 665.9,187.6 666.4,186.7 666.9,187.7 667.4,187.5 667.9,187.1 668.4,187.6 668.9,186.8 669.4,187.0 669.9,186.9 670.4,187.0 670.9,187.7 671.4,186.9 671.9,187.0 672.4,187.1 672.9,187.5" fill="none" stroke="#3139A8" stroke-width="1.5" stroke-linejoin="round"/>
<path d="M437.4,199.5 437.9,200.1 438.4,199.2 438.9,198.8 439.4,199.2 439.9,199.4 440.4,198.9 440.9,199.5 441.4,200.3 441.9,198.9 442.4,199.2 442.9,199.9 443.4,198.8 443.9,198.6 444.4,198.5 444.9,199.3 445.4,199.4 445.9,199.0 446.4,199.1 446.9,199.8 447.4,199.6 447.9,198.3 448.4,199.1 448.9,199.1 449.4,199.5 449.9,199.0 450.4,198.7 450.9,198.8 451.4,198.1 451.9,199.1 452.4,198.8 452.9,199.3 453.4,198.5 453.9,198.8 454.4,198.6 454.9,198.5 455.4,199.5 455.9,198.9 456.4,199.4 456.9,198.6 457.4,199.3 457.9,198.4 458.4,199.1 458.9,199.1 459.4,199.8 459.9,199.6 460.4,199.4 460.9,200.0 461.4,199.7 461.9,199.9 462.4,200.1 462.9,199.7 463.4,199.6 463.9,199.9 464.4,199.6 464.9,200.0 465.4,200.5 465.9,200.3 466.4,199.7 466.9,199.2 467.4,199.9 467.9,199.9 468.4,200.6 468.9,199.8 469.4,199.9 469.9,200.5 470.4,199.9 470.9,200.1 471.4,201.1 471.9,201.1 472.4,200.6 472.9,200.5 473.4,199.9 473.9,200.8 474.4,200.6 474.9,200.7 475.4,200.4 475.9,200.7 476.4,200.7 476.9,201.0 477.4,201.7 477.9,201.2 478.4,200.1 478.9,200.6 479.4,200.3 479.9,200.7 480.4,201.5 480.9,201.5 481.4,201.0 481.9,201.5 482.4,201.0 482.9,200.7 483.4,200.7 483.9,201.1 484.4,202.3 484.9,200.9 485.4,202.3 485.9,202.4 486.4,201.6 486.9,201.7 487.4,201.4 487.9,201.8 488.4,202.2 488.9,201.9 489.4,202.5 489.9,202.6 490.4,202.2 490.9,202.2 491.4,202.1 491.9,202.3 492.4,201.6 492.9,202.5 493.4,202.4 493.9,201.9 494.4,203.5 494.9,201.9 495.4,201.9 495.9,202.6 496.4,201.4 496.9,202.0 497.4,201.6 497.9,201.9 498.4,202.4 498.9,202.6 499.4,203.0 499.9,202.9 500.4,203.0 500.9,202.7 501.4,202.1 501.9,202.9 502.4,202.0 502.9,201.9 503.4,203.0 503.9,202.5 504.4,202.2 504.9,202.4 505.4,202.4 505.9,201.1 506.4,201.8 506.9,201.1 507.4,201.7 507.9,201.1 508.4,202.0 508.9,201.3 509.4,200.4 509.9,200.6 510.4,199.7 510.9,200.2 511.4,200.3 511.9,199.9 512.4,198.5 512.9,199.2 513.4,199.5 513.9,199.2 514.4,199.5 514.9,197.9 515.4,198.7 515.9,197.9 516.4,198.2 516.9,198.1 517.4,198.0 517.9,197.1 518.4,197.3 518.9,196.3 519.4,195.9 519.9,196.8 520.4,196.2 520.9,195.1 521.4,195.3 521.9,195.5 522.4,196.1 522.9,195.6 523.4,195.3 523.9,193.7 524.4,194.4 524.9,194.5 525.4,194.3 525.9,194.1 526.4,193.6 526.9,194.6 527.4,194.3 527.9,193.4 528.4,192.9 528.9,194.6 529.4,193.2 529.9,194.1 530.4,194.6 530.9,193.0 531.4,193.7 531.9,193.4 532.4,193.9 532.9,193.8 533.4,194.7 533.9,194.1 534.4,193.9 534.9,194.6 535.4,193.9 535.9,194.0 536.4,195.5 536.9,193.9 537.4,194.1 537.9,194.5 538.4,194.0 538.9,193.5 539.4,195.3 539.9,194.3 540.4,194.5 540.9,194.7 541.4,194.4 541.9,194.4 542.4,195.2 542.9,196.4 543.4,195.6 543.9,195.7 544.4,194.5 544.9,195.4 545.4,194.8 545.9,196.0 546.4,195.5 546.9,195.8 547.4,195.8 547.9,195.6 548.4,195.2 548.9,196.4 549.4,195.4 549.9,195.5 550.4,196.0 550.9,195.7 551.4,196.2 551.9,196.5 552.4,196.0 552.9,195.9 553.4,195.7 553.9,196.0 554.4,194.4 554.9,195.5 555.4,194.8 555.9,194.5 556.4,195.2 556.9,195.0 557.4,195.5 557.9,195.8 558.4,194.0 558.9,195.3 559.4,196.6 559.9,196.1 560.4,196.5 560.9,195.9 561.4,195.2 561.9,195.5 562.4,196.7 562.9,197.1 563.4,196.5 563.9,197.1 564.4,197.7 564.9,196.9 565.4,198.0 565.9,199.3 566.4,199.8 566.9,198.7 567.4,200.0 567.9,198.8 568.4,198.8 568.9,198.1 569.4,200.0 569.9,199.3 570.4,200.8 570.9,199.6 571.4,199.5 571.9,198.4 572.4,200.1 572.9,199.0 573.4,199.0 573.9,197.8 574.4,199.4 574.9,199.2 575.4,198.1 575.9,198.1 576.4,197.8 576.9,197.7 577.4,196.6 577.9,196.6 578.4,194.6 578.9,193.4 579.4,192.4 579.9,190.2 580.4,189.9 580.9,189.7 581.4,188.0 581.9,186.2 582.4,185.7 582.9,183.3 583.4,183.2 583.9,182.6 584.4,181.8 584.9,180.1 585.4,180.3 585.9,180.1 586.4,178.2 586.9,178.3 587.4,176.5 587.9,175.8 588.4,176.8 588.9,176.2 589.4,176.1 589.9,175.7 590.4,176.0 590.9,176.8 591.4,178.1 591.9,178.2 592.4,178.5 592.9,181.2 593.4,182.0 593.9,182.9 594.4,183.4 594.9,185.2 595.4,184.6 595.9,185.4 596.4,184.5 596.9,185.6 597.4,185.9 597.9,186.5 598.4,187.0 598.9,186.7 599.4,188.3 599.9,187.0 600.4,187.6 600.9,188.2 601.4,187.6 601.9,188.9 602.4,189.1 602.9,188.8 603.4,190.1 603.9,189.3 604.4,189.5 604.9,188.9 605.4,188.6 605.9,189.3 606.4,189.5 606.9,189.5 607.4,190.2 607.9,188.6 608.4,189.3 608.9,189.0 609.4,190.8 609.9,189.8 610.4,189.9 610.9,189.7 611.4,190.8 611.9,190.1 612.4,190.5 612.9,189.3 613.4,191.2 613.9,190.8 614.4,190.9 614.9,191.4 615.4,190.7 615.9,190.8 616.4,191.4 616.9,191.4 617.4,191.2 617.9,191.6 618.4,191.6 618.9,192.7 619.4,193.2 619.9,193.1 620.4,194.6 620.9,193.4 621.4,195.0 621.9,197.0 622.4,196.8 622.9,197.2 623.4,200.1 623.9,200.8 624.4,201.1 624.9,203.4 625.4,203.6 625.9,204.7 626.4,206.5 626.9,207.3 627.4,207.8 627.9,209.1 628.4,209.4 628.9,210.6 629.4,210.9 629.9,211.6 630.4,211.2 630.9,211.0 631.4,211.2 631.9,212.0 632.4,213.1 632.9,212.8 633.4,212.1 633.9,213.0 634.4,211.9 634.9,213.2 635.4,212.5 635.9,213.2 636.4,213.1 636.9,212.7 637.4,213.1 637.9,212.3 638.4,212.9 638.9,213.6 639.4,215.3 639.9,213.5 640.4,213.2 640.9,212.6 641.4,213.8 641.9,212.4 642.4,213.1 642.9,213.5 643.4,213.1 643.9,214.0 644.4,213.9 644.9,213.4 645.4,213.5 645.9,213.3 646.4,213.3 646.9,213.9 647.4,214.0 647.9,213.9 648.4,213.9 648.9,213.6 649.4,213.9 649.9,213.3 650.4,213.8 650.9,214.3 651.4,214.3 651.9,213.7 652.4,213.7 652.9,214.3 653.4,214.5 653.9,213.4 654.4,213.7 654.9,214.0 655.4,214.3 655.9,213.6 656.4,214.1 656.9,213.8 657.4,214.7 657.9,214.1 658.4,213.9 658.9,213.8 659.4,214.3 659.9,214.2 660.4,213.6 660.9,214.0 661.4,213.5 661.9,213.7 662.4,213.5 662.9,213.5 663.4,213.7 663.9,213.6 664.4,214.1 664.9,214.2 665.4,213.9 665.9,213.6 666.4,214.2 666.9,213.3 667.4,213.3 667.9,214.2 668.4,214.2 668.9,214.3 669.4,213.9 669.9,213.6 670.4,213.8 670.9,214.2 671.4,213.7 671.9,213.8 672.4,213.5 672.9,213.6" fill="none" stroke="#DC2424" stroke-width="1.5" stroke-linejoin="round"/>
<line x1="528.2" y1="9.3" x2="528.2" y2="217.4" stroke="#000" stroke-width="1.3" stroke-dasharray="4.5 2.2 1.7 1.41"/>
<line x1="566.1" y1="10.9" x2="566.1" y2="217.4" stroke="#111" stroke-width="1.5" stroke-dasharray="1.9 3.37"/>
<line x1="587.4" y1="9.3" x2="587.4" y2="217.4" stroke="#111" stroke-width="1.25" stroke-dasharray="3.75 1.5"/>
<line x1="627.8" y1="11.3" x2="627.8" y2="217.4" stroke="#222" stroke-width="1.7" stroke-dasharray="6.6 3.95"/>
<text x="424.5" y="34.8" text-anchor="end" class="t13">1.5 × 10</text><text x="424.9" y="27.8" class="t13" style="font-size:8.5px">4</text>
<text x="424.5" y="97.6" text-anchor="end" class="t13">1 × 10</text><text x="424.9" y="90.6" class="t13" style="font-size:8.5px">4</text>
<text x="424.5" y="160.0" text-anchor="end" class="t13">5 × 10</text><text x="424.9" y="153.0" class="t13" style="font-size:8.5px">3</text>
<text x="430.6" y="219.9" text-anchor="end" class="t13">0</text>
<text x="468.0" y="236.3" text-anchor="middle" class="t13">470</text>
<text x="519.5" y="236.3" text-anchor="middle" class="t13">465</text>
<text x="570.9" y="236.3" text-anchor="middle" class="t13">460</text>
<text x="622.4" y="236.3" text-anchor="middle" class="t13">455</text>
<text x="673.8" y="236.3" text-anchor="middle" class="t13">450</text>
<text x="555.4" y="258.5" text-anchor="middle" class="t13">Binding energy (eV)</text>
<text transform="translate(518.4,55.6) rotate(-90)" class="t10"><tspan>TiO</tspan><tspan font-size="5.6" dy="3.90">2</tspan><tspan dy="-3.90"> 2</tspan><tspan font-style="italic">p</tspan><tspan font-size="5.6" dy="3.90">1/2</tspan></text>
<text transform="translate(558.0,52.2) rotate(-90)" class="t10"><tspan>TiN 2</tspan><tspan font-style="italic">p</tspan><tspan font-size="5.6" dy="3.90">1/2</tspan></text>
<text transform="translate(579.7,55.8) rotate(-90)" class="t10"><tspan>TiO</tspan><tspan font-size="5.6" dy="3.90">2</tspan><tspan dy="-3.90"> 2</tspan><tspan font-style="italic">p</tspan><tspan font-size="5.6" dy="3.90">3/2</tspan></text>
<text transform="translate(619.1,51.0) rotate(-90)" class="t10"><tspan>TiN 2</tspan><tspan font-style="italic">p</tspan><tspan font-size="5.6" dy="3.90">3/2</tspan></text>
<text transform="translate(358.9,158.4) rotate(-90)" class="t13">Intensity (a.u.)</text>
<text x="98.5" y="66.2" class="c" fill="#E6197D">20 min etch</text>
<text x="98.7" y="100.5" class="c" fill="#7F18B2">10 min etch</text>
<text x="101.3" y="130.1" class="c" fill="#0C6A1C">5 min etch</text>
<text x="98.7" y="166.0" class="c" fill="#3139A8">30 sec etch</text>
<text x="125.6" y="188.1" class="c" fill="#DC2424" stroke="#DC2424" stroke-width="0.4" style="font-weight:normal;font-size:9.6px;letter-spacing:0;stroke-width:0.4px" text-anchor="middle" transform="translate(125.6,188.1) scale(0.985,1) translate(-125.6,-188.1)">Restructured Ti</text>
<text x="125.3" y="198.4" class="c" fill="#DC2424" stroke="#DC2424" stroke-width="0.4" style="font-weight:normal;font-size:9.6px;letter-spacing:0;stroke-width:0.4px" text-anchor="middle" transform="translate(125.3,198.4) scale(0.995,1) translate(-125.3,-198.4)">89 MJ/cm<tspan font-size="6.4" dy="-4.2" dx="0.3">2</tspan></text>
<text x="448.9" y="65.4" class="c" fill="#E6197D">20 min etch</text>
<text x="449.5" y="98.7" class="c" fill="#7F18B2">10 min etch</text>
<text x="451.8" y="131.2" class="c" fill="#0C6A1C">5 min etch</text>
<text x="449.5" y="161.3" class="c" fill="#3139A8">30 sec etch</text>
<text x="448.9" y="191.2" class="c" fill="#DC2424">TiN Coating</text>
</svg></body></html>
